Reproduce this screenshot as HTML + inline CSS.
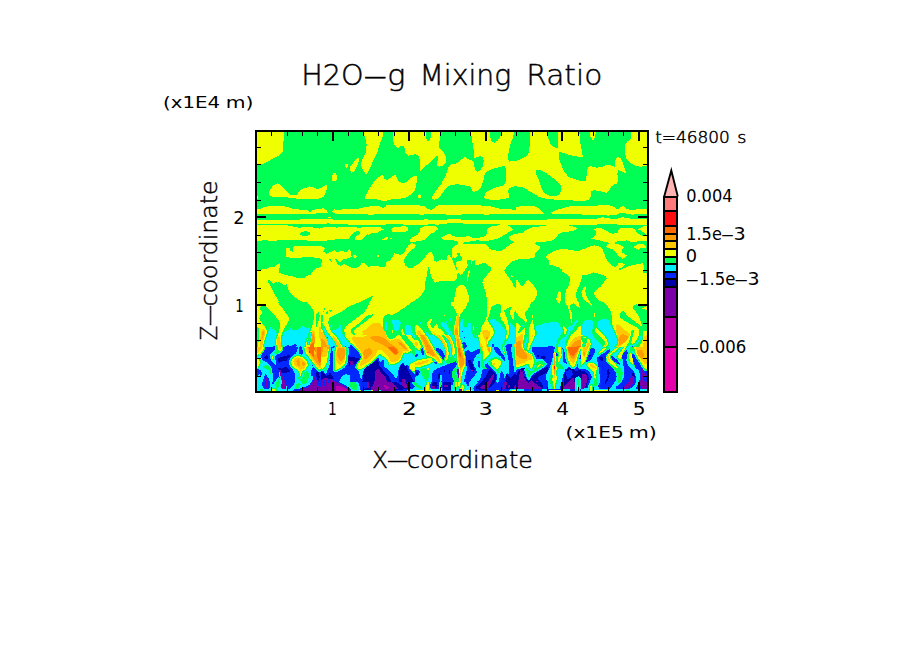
<!DOCTYPE html><html><head><meta charset="utf-8"><title>H2O-g Mixing Ratio</title><style>html,body{margin:0;padding:0;background:#fff;}svg{display:block}text{font-family:"DejaVu Sans","Liberation Sans",sans-serif;fill:#000}.lt{font-family:"DejaVu Sans Light","DejaVu Sans","Liberation Sans",sans-serif;font-weight:200}</style></head><body>
<svg width="904" height="654" viewBox="0 0 904 654">
<rect width="904" height="654" fill="#fff"/>
<g shape-rendering="crispEdges"><rect x="256" y="131" width="392" height="261" fill="#00ff55"/><defs><clipPath id="c0"><rect x="256" y="130" width="130" height="90"/></clipPath><clipPath id="c1"><rect x="386" y="130" width="130" height="90"/></clipPath><clipPath id="c2"><rect x="516" y="130" width="131" height="90"/></clipPath><clipPath id="c3"><rect x="256" y="218" width="130" height="94"/></clipPath><clipPath id="c4"><rect x="386" y="218" width="130" height="94"/></clipPath><clipPath id="c5"><rect x="516" y="218" width="131" height="94"/></clipPath><clipPath id="c6"><rect x="256" y="302" width="65" height="47"/></clipPath><clipPath id="c7"><rect x="321" y="302" width="65" height="47"/></clipPath><clipPath id="c8"><rect x="386" y="302" width="65" height="47"/></clipPath><clipPath id="c9"><rect x="451" y="302" width="65" height="47"/></clipPath><clipPath id="c10"><rect x="516" y="302" width="65" height="47"/></clipPath><clipPath id="c11"><rect x="581" y="302" width="68" height="47"/></clipPath><clipPath id="c12"><rect x="256" y="347" width="65" height="46"/></clipPath><clipPath id="c13"><rect x="321" y="347" width="65" height="46"/></clipPath><clipPath id="c14"><rect x="386" y="347" width="65" height="46"/></clipPath><clipPath id="c15"><rect x="451" y="347" width="65" height="46"/></clipPath><clipPath id="c16"><rect x="516" y="347" width="65" height="46"/></clipPath><clipPath id="c17"><rect x="581" y="347" width="68" height="46"/></clipPath><clipPath id="c18"><rect x="350" y="335" width="65" height="47"/></clipPath><clipPath id="c19"><rect x="415" y="335" width="65" height="47"/></clipPath></defs><g clip-path="url(#c0)"><rect x="256" y="130" width="130" height="90" fill="#00ff55"/><polygon fill="#f0ff00" points="256.0,131.4 284.0,131.4 284.0,134.3 283.3,144.4 282.6,151.6 279.0,155.9 273.3,158.0 269.7,160.9 263.2,163.8 257.4,165.2 256.0,165.2"/><polygon fill="#f0ff00" points="383.3,131.4 382.5,137.2 379.7,144.4 377.5,151.6 373.9,158.8 371.0,166.0 367.4,173.1 366.0,174.3 363.9,171.7 361.7,168.1 361.0,164.5 362.4,158.8 364.6,154.4 366.0,151.6 366.7,144.4 365.3,138.6 363.9,134.3 363.9,131.4"/><polygon fill="#f0ff00" points="358.1,157.0 358.8,158.8 358.4,163.1 355.9,168.8 353.8,171.7 351.6,172.9 350.2,170.3 350.2,166.7 352.3,163.8 355.2,160.2"/><polygon fill="#f0ff00" points="345.4,164.5 347.7,164.2 348.0,166.7 346.3,167.7 345.2,166.2"/><polygon fill="#f0ff00" points="333.7,173.1 335.4,173.1 336.8,176.0 336.8,179.6 334.8,181.0 332.5,180.6 331.9,177.5 332.2,174.9"/><polygon fill="#f0ff00" points="277.6,183.2 279.7,184.6 284.8,189.7 291.2,195.4 294.8,195.4 297.7,194.4 298.4,191.8 302.0,188.7 305.6,188.2 309.2,186.4 312.8,186.8 316.4,189.0 320.7,188.2 325.0,185.4 326.8,185.4 326.5,190.4 325.0,194.7 323.6,196.9 316.4,199.3 306.3,198.7 297.7,198.7 290.5,197.6 281.9,197.3 274.7,196.9 269.7,196.1 268.9,191.8 270.4,189.0 273.3,185.4"/><polygon fill="#f0ff00" points="256.0,196.1 257.7,196.1 257.7,199.0 256.0,199.0"/><polygon fill="#f0ff00" points="383.3,174.3 384.0,178.9 386.9,179.6 386.9,200.8 382.5,200.8 378.2,199.7 371.0,198.7 365.3,198.7 365.3,196.1 367.4,191.8 371.0,186.1 375.4,179.6 379.7,176.7"/><polygon fill="#f0ff00" points="256.0,208.8 260.3,208.8 264.6,206.9 270.4,205.9 281.9,205.9 287.6,206.9 293.4,208.8 303.5,210.0 307.8,210.5 310.6,212.3 312.8,210.2 316.4,209.1 323.6,208.4 327.2,210.5 327.9,213.1 310.6,213.7 299.1,214.1 284.8,214.1 270.4,214.1 256.0,214.1"/><polygon fill="#f0ff00" points="332.2,211.2 334.4,209.4 338.7,210.2 342.3,209.4 349.5,209.1 356.7,209.1 362.4,207.7 371.0,206.2 378.2,205.9 382.5,207.7 386.9,206.9 386.9,214.1 371.0,214.6 356.7,214.1 336.5,214.1 335.1,213.4 332.9,213.4"/><polygon fill="#f0ff00" points="256.0,219.9 320.7,219.9 325.0,218.4 329.3,217.0 333.7,218.4 338.0,219.9 386.9,219.9 386.9,224.9 256.0,224.9"/></g>
<g clip-path="url(#c1)"><rect x="386" y="130" width="130" height="90" fill="#00ff55"/><polygon fill="#f0ff00" points="393.2,131.4 393.2,141.5 394.6,145.1 398.2,148.7 400.4,145.8 403.0,145.5 404.7,148.7 405.4,153.0 407.6,155.6 411.9,155.2 415.5,154.2 418.4,155.9 419.8,160.2 420.2,167.4 419.4,169.1 420.5,170.6 424.8,166.7 428.4,163.8 432.0,160.9 434.9,157.3 437.0,155.2 438.1,156.6 437.5,160.9 437.0,166.0 439.9,166.7 443.5,165.2 445.7,162.4 445.7,156.6 444.2,153.0 441.4,150.1 439.2,148.0 439.5,141.5 439.9,131.4"/><polygon fill="#00ff55" points="425.5,130.0 425.5,137.9 427.7,140.8 429.9,140.1 430.9,136.5 430.9,130.0"/><polygon fill="#f0ff00" points="385.3,181.0 389.6,178.2 393.2,175.7 395.8,175.3 397.2,178.2 398.2,181.0 401.1,182.5 405.4,182.5 409.0,179.6 413.3,176.3 416.9,176.3 416.9,180.3 415.9,187.5 414.0,191.8 410.4,194.7 406.1,197.6 398.9,199.0 391.8,199.3 385.3,200.8"/><polygon fill="#f0ff00" points="470.8,131.4 472.3,141.5 473.7,150.1 474.0,158.0 476.6,157.3 480.2,156.2 482.6,157.3 483.8,160.9 482.6,166.7 480.2,170.3 477.3,171.7 475.2,169.5 474.0,165.2 473.4,160.9 470.8,160.2 468.0,158.8 464.8,157.0 461.5,159.5 457.9,162.4 455.0,163.8 450.7,164.5 448.6,167.1 446.4,173.1 445.0,177.5 442.8,180.3 441.4,183.9 438.5,187.5 435.6,191.1 432.7,195.4 431.7,198.3 434.2,199.7 437.8,198.7 440.6,196.1 442.1,193.3 445.0,189.7 447.8,186.8 451.4,184.9 456.5,184.4 460.8,184.6 463.7,185.4 468.7,185.8 471.1,187.5 472.0,191.1 474.4,191.8 478.0,190.4 480.2,188.2 482.1,184.6 483.8,178.9 484.5,174.6 486.7,171.7 491.0,169.5 495.3,168.1 501.0,166.7 504.6,166.2 506.1,168.8 506.1,177.5 505.4,183.2 502.5,185.8 498.2,186.8 492.4,188.7 487.4,191.1 484.9,194.0 484.1,197.6 486.7,199.3 495.3,200.2 503.9,199.0 508.2,197.9 509.7,196.1 508.2,191.8 509.0,188.2 512.5,186.8 516.9,186.1 516.9,160.9 509.0,161.6 507.9,158.0 508.5,153.0 510.0,145.8 512.5,138.6 514.7,131.4"/><polygon fill="#00ff55" points="489.8,130.0 490.3,137.2 491.7,141.5 494.6,142.7 497.4,140.8 500.3,137.2 501.8,130.0"/><polygon fill="#f0ff00" points="419.4,194.0 421.2,195.4 420.5,197.6 418.4,197.6 417.9,195.4"/><polygon fill="#f0ff00" points="385.3,205.5 400.4,204.8 414.8,204.8 424.8,206.2 427.7,209.1 432.0,209.8 435.6,206.9 439.2,205.1 457.9,204.5 475.2,204.8 480.9,205.5 489.5,206.2 498.2,208.4 505.4,209.4 511.1,208.8 514.0,210.5 516.9,208.8 516.9,214.1 501.0,214.1 486.7,214.6 472.3,214.1 455.0,214.8 449.3,214.8 440.6,214.1 426.3,214.1 422.0,214.8 414.8,214.1 400.4,214.1 385.3,214.1"/><polygon fill="#f0ff00" points="385.3,219.9 516.9,219.9 516.9,224.9 385.3,224.9"/></g>
<g clip-path="url(#c2)"><rect x="516" y="130" width="131" height="90" fill="#00ff55"/><polygon fill="#f0ff00" points="530.4,131.4 547.9,131.4 548.4,138.6 550.5,143.7 554.1,147.3 557.7,148.0 558.0,138.6 557.7,131.4 579.3,131.4 580.0,141.5 581.4,148.7 582.9,157.3 577.8,156.6 570.6,155.2 563.5,153.0 559.1,151.9 559.1,158.8 561.7,166.0 564.9,172.4 568.5,176.7 573.5,178.9 579.3,180.6 585.7,180.6 586.5,176.0 587.2,170.3 587.9,166.7 590.8,166.2 596.5,167.7 602.3,166.7 606.6,164.5 609.5,165.2 614.5,166.7 615.2,160.2 617.4,157.3 620.3,157.6 623.1,163.1 626.0,173.1 622.4,171.7 618.4,170.3 617.4,173.1 617.8,178.9 617.4,183.2 613.8,184.6 610.9,186.8 608.8,191.1 606.6,193.0 600.8,191.5 594.4,190.1 591.5,191.1 590.8,196.1 590.1,199.0 586.5,200.5 573.5,200.5 559.1,199.7 547.6,199.3 539.0,196.9 531.8,192.6 526.1,189.0 521.8,186.8 515.3,186.4 515.3,160.9 521.8,158.8 526.8,155.9 529.2,151.6 529.7,144.4"/><polygon fill="#00ff55" points="536.1,170.3 539.7,170.0 544.8,172.4 550.5,176.0 557.0,181.0 560.9,185.4 561.3,190.4 559.1,194.7 554.8,196.4 549.8,196.1 545.5,194.0 542.6,190.4 540.4,184.6 538.3,178.9 536.1,173.9"/><polygon fill="#f0ff00" points="590.1,131.4 590.5,136.5 592.9,140.8 595.1,137.2 595.8,131.4"/><polygon fill="#f0ff00" points="631.0,131.4 647.6,131.4 647.6,166.0 639.7,166.7 633.9,165.2 629.6,162.4 626.0,158.0 625.0,151.6 625.3,144.4 627.4,141.5 630.3,140.1 631.0,135.8"/><polygon fill="#f0ff00" points="515.3,207.7 520.3,206.2 526.1,205.5 534.7,206.2 539.7,209.1 543.3,212.3 544.0,214.1 515.3,214.1"/><polygon fill="#f0ff00" points="551.2,212.7 554.8,210.5 562.0,208.4 570.6,206.2 580.7,205.5 590.8,206.2 596.5,205.9 602.3,204.5 608.0,204.5 613.8,206.9 618.1,209.8 620.3,206.9 623.1,206.2 626.0,208.4 629.6,209.8 635.4,209.8 638.2,208.8 641.1,209.4 647.6,209.1 647.6,214.1 631.0,214.6 622.4,212.7 619.5,213.4 616.7,214.8 608.0,215.6 602.3,215.1 587.9,214.8 573.5,214.1 559.1,214.1 552.0,214.1"/><polygon fill="#f0ff00" points="515.3,219.9 521.8,219.9 530.4,219.4 544.8,219.2 559.1,219.9 576.4,220.3 590.8,220.3 598.0,218.4 602.3,217.0 605.9,218.0 609.5,219.9 616.7,219.2 622.4,217.0 626.7,218.4 631.0,220.3 647.6,220.3 647.6,224.9 515.3,224.9"/></g>
<g clip-path="url(#c3)"><rect x="256" y="218" width="130" height="94" fill="#f0ff00"/><polygon fill="#00ff55" points="256.0,218.0 386.0,218.0 386.0,220.0 353.8,220.0 333.7,219.7 330.8,218.6 327.2,218.6 325.0,219.4 256.0,219.7"/><polygon fill="#00ff55" points="257.4,224.3 284.8,224.3 290.5,224.0 325.0,224.0 327.9,223.2 330.8,224.0 350.9,224.6 386.9,224.6 386.9,226.6 379.7,226.5 363.9,226.5 361.0,227.5 356.7,227.5 355.2,226.5 349.5,226.5 345.2,227.2 336.5,227.5 330.8,226.9 327.9,227.2 325.0,226.9 319.3,228.6 313.5,227.5 306.3,226.9 299.1,227.8 290.5,226.1 286.9,225.2 257.4,225.2"/><polygon fill="#00ff55" points="256.0,241.0 264.6,240.3 270.4,240.7 284.8,240.3 299.1,239.9 313.5,241.0 321.0,241.2 331.1,240.1 338.3,239.0 348.3,239.4 350.5,236.1 351.9,234.4 354.8,232.2 356.9,231.1 359.1,231.5 360.1,233.0 358.4,234.7 356.2,236.1 355.1,237.6 355.1,239.7 362.0,239.6 364.1,237.3 367.0,234.4 368.5,234.7 371.3,233.2 377.8,233.0 380.7,230.4 383.8,229.6 382.1,228.6 379.7,226.5 386.9,226.5 386.9,266.2 382.5,266.9 376.8,266.2 371.0,265.5 368.2,267.6 366.7,264.7 363.9,262.6 361.7,262.9 360.3,265.5 356.7,267.6 352.3,268.3 348.0,266.2 344.4,264.0 340.8,265.7 338.0,264.7 334.8,259.0 336.5,259.0 338.7,261.1 340.8,262.6 342.3,259.7 348.0,258.3 351.6,256.5 350.9,254.0 350.2,248.9 345.9,252.5 342.3,250.8 336.5,252.2 334.4,250.4 330.8,252.2 327.9,252.8 326.5,254.0 323.3,251.4 324.7,248.2 322.1,246.5 313.5,245.6 297.7,245.6 293.1,246.8 292.7,251.8 290.2,250.4 289.8,247.5 286.2,247.5 286.2,256.5 289.1,257.5 293.4,258.3 299.1,258.0 304.9,256.8 310.6,257.1 319.3,258.3 322.4,259.0 322.1,261.1 320.7,266.9 316.4,268.3 313.5,270.5 310.6,274.8 307.8,275.5 303.5,278.4 299.1,278.4 292.0,276.2 284.8,274.8 279.0,272.6 279.0,269.8 280.4,266.2 279.7,263.3 277.6,264.0 273.3,267.6 270.4,266.9 267.5,268.3 261.8,269.5 256.0,270.5"/><polygon fill="#00ff55" points="328.6,258.3 330.8,259.0 332.2,262.9 330.1,261.1"/><polygon fill="#f0ff00" points="353.1,255.4 355.2,254.7 356.7,256.5 355.2,258.0 353.4,257.1"/><polygon fill="#f0ff00" points="377.1,255.1 379.1,255.1 379.1,257.1 377.1,257.1"/><polygon fill="#f0ff00" points="382.1,239.7 386.9,236.1 386.9,239.7"/><polygon fill="#00ff55" points="299.9,233.1 302.0,231.7 306.3,231.2 309.5,232.4 309.9,234.5 307.0,236.0 302.7,236.0 300.3,234.5"/><polygon fill="#00ff55" points="268.2,279.8 270.4,280.6 274.0,284.1 275.4,282.0 277.6,282.7 279.7,282.0 281.9,283.4 284.8,285.6 286.9,283.4 287.9,289.2 289.8,292.8 293.4,296.4 299.1,300.0 304.9,302.8 309.2,305.7 312.1,309.3 313.5,312.9 284.8,312.9 282.6,307.2 279.7,302.8 277.6,299.2 274.7,294.2 272.5,289.9 270.4,285.6 268.2,282.7"/><polygon fill="#00ff55" points="256.0,302.8 260.3,302.8 263.2,304.3 266.8,307.9 269.7,312.9 256.0,312.9"/><polygon fill="#00ff55" points="342.3,312.9 348.0,307.9 356.7,303.6 365.3,299.2 371.0,296.4 372.8,296.4 371.0,300.7 368.2,304.3 366.7,307.9 365.3,312.9"/></g>
<g clip-path="url(#c4)"><rect x="386" y="218" width="130" height="94" fill="#00ff55"/><polygon fill="#f0ff00" points="385.3,219.7 423.4,219.7 424.8,218.7 427.7,218.7 428.4,219.7 446.4,219.7 447.8,219.2 460.8,219.2 462.2,220.0 517.6,220.0 517.6,224.9 508.2,225.2 507.8,223.5 499.9,223.5 499.6,224.0 463.7,224.0 462.2,223.2 447.8,223.2 446.4,224.3 435.6,224.6 433.5,224.0 428.4,224.0 427.0,224.9 410.4,224.6 386.0,224.3 385.3,224.3"/><polygon fill="#f0ff00" points="391.0,229.5 393.2,227.3 400.4,226.6 405.4,225.9 407.9,227.3 407.9,230.2 405.4,232.4 400.4,232.1 394.6,232.4 392.5,231.7"/><polygon fill="#f0ff00" points="386.0,237.4 388.2,236.7 388.6,239.3 386.0,239.6"/><polygon fill="#f0ff00" points="389.6,238.1 391.8,237.8 391.8,239.0 389.6,239.0"/><polygon fill="#f0ff00" points="420.5,228.1 424.1,226.3 430.6,225.5 434.9,225.9 437.0,227.8 438.5,229.2 436.3,230.2 434.2,232.4 430.6,233.8 427.7,236.7 424.8,239.6 420.5,241.0 414.8,241.7 410.4,241.7 410.2,239.6 412.6,237.4 416.9,235.3 419.4,232.4"/><polygon fill="#f0ff00" points="441.4,237.4 445.0,235.5 447.8,234.1 450.7,234.5 453.6,236.4 463.7,237.0 468.0,236.0 470.8,236.7 472.3,238.1 478.0,238.1 480.9,237.4 485.2,236.0 486.7,233.8 486.9,229.5 488.4,227.8 491.3,226.1 499.9,225.2 499.9,223.5 507.8,223.5 507.8,225.2 510.0,226.6 512.8,229.8 508.5,232.4 504.2,235.0 501.3,237.0 498.5,238.4 494.1,239.6 490.1,240.3 486.2,241.3 481.9,241.3 479.5,240.7 478.3,239.3 476.9,240.3 473.3,241.0 469.4,241.7 463.7,242.2 462.9,243.9 457.9,243.9 457.6,241.7 453.6,240.3 446.4,240.3 442.8,239.6"/><polygon fill="#f0ff00" points="385.3,261.9 390.3,260.4 392.5,256.8 394.6,253.2 396.8,254.0 400.4,254.7 404.0,253.2 406.1,248.9 408.3,245.3 411.9,243.2 414.8,243.9 415.9,246.0 414.0,248.2 410.4,251.1 407.6,254.0 404.7,258.3 404.0,261.9 405.4,265.5 408.3,267.6 412.6,267.6 416.2,265.5 420.5,261.9 424.1,258.3 427.7,254.0 429.9,251.4 432.0,252.5 433.5,256.1 434.2,260.4 436.3,261.9 439.2,260.4 441.4,259.0 443.5,260.4 446.4,260.4 447.1,256.1 449.3,254.7 450.7,257.5 452.4,258.3 452.1,248.9 454.3,246.0 457.9,243.9 462.9,243.9 466.5,243.6 475.2,243.9 485.5,243.9 490.1,249.3 497.0,250.8 502.0,250.8 505.6,247.5 510.0,244.6 514.6,242.4 509.7,239.6 509.2,236.7 512.5,234.5 517.6,233.8 517.6,312.9 385.3,312.9"/><polygon fill="#00ff55" points="398.9,312.9 404.7,307.9 410.4,303.6 417.6,298.5 422.0,294.2 424.5,289.9 425.1,282.7 427.0,275.5 428.0,267.6 429.1,266.9 429.9,271.2 431.3,277.0 433.5,281.3 435.6,282.7 439.2,281.3 443.5,281.0 449.3,280.6 453.6,281.3 456.5,279.1 457.6,274.8 457.0,274.2 458.3,273.2 460.5,274.7 462.6,273.5 464.4,271.1 466.2,268.2 467.7,265.3 467.0,260.3 470.8,260.3 470.6,264.0 472.3,264.7 472.3,261.0 474.9,260.3 475.6,265.6 480.9,264.0 484.2,262.3 486.7,264.0 487.8,265.3 490.7,267.0 490.8,271.1 488.8,272.6 486.7,275.5 483.8,278.4 482.3,282.7 483.8,287.0 485.9,292.8 486.7,298.5 486.7,312.9 468.7,312.9 469.1,304.3 468.7,295.7 466.5,288.5 463.7,284.9 459.3,285.3 456.5,288.5 454.7,295.7 453.6,302.8 451.4,307.2 453.6,310.0 454.3,312.9"/><polygon fill="#00ff55" points="456.9,253.1 460.1,253.1 460.1,256.1 462.2,258.1 461.9,260.3 459.3,260.7 457.2,261.0 456.2,262.9 455.7,265.3 456.9,268.2 456.5,269.9 455.5,268.2 454.0,263.9 452.9,261.0 452.1,258.1 453.6,257.0 455.0,258.4 456.5,257.0 457.9,256.0 456.9,254.5"/><polygon fill="#f0ff00" points="468.4,270.6 469.8,270.3 469.4,274.7 468.4,277.5 467.7,281.1 467.0,281.1 467.2,276.8 468.0,273.2"/><polygon fill="#00ff55" points="517.6,259.7 512.5,261.1 508.2,265.5 503.9,270.5 506.8,274.8 509.7,278.4 512.5,282.7 514.0,287.0 517.6,288.5"/><polygon fill="#f0ff00" points="511.1,275.2 512.8,275.8 513.1,277.5 511.4,277.0"/><polygon fill="#00ff55" points="491.7,312.9 492.1,307.2 495.3,304.3 498.9,303.1 501.0,305.7 501.8,312.9"/><polygon fill="#00ff55" points="504.6,312.9 508.2,309.3 512.5,306.4 513.3,310.0 512.5,312.9"/></g>
<g clip-path="url(#c5)"><rect x="516" y="218" width="131" height="94" fill="#00ff55"/><polygon fill="#f0ff00" points="515.3,220.0 546.2,220.0 546.9,219.2 596.5,219.2 599.4,217.0 608.0,217.0 610.9,219.4 616.7,219.4 619.5,217.0 629.6,217.0 631.0,219.4 647.6,219.4 647.6,224.9 638.2,224.9 631.0,225.2 616.7,224.5 602.3,223.8 596.5,224.5 587.9,225.2 567.8,225.2 566.3,224.5 547.6,224.5 546.2,225.2 534.7,225.5 524.6,225.2 516.0,224.9 515.3,224.9"/><polygon fill="#f0ff00" points="515.3,233.8 521.8,233.1 524.6,230.9 528.9,228.4 534.7,226.9 544.8,225.9 547.6,224.6 566.3,224.6 570.6,225.9 575.7,227.3 577.1,229.2 573.5,230.9 567.8,231.7 562.0,232.4 558.4,234.5 555.5,238.1 552.0,240.7 544.8,241.7 537.6,242.4 534.0,242.7 536.1,244.6 539.7,246.0 540.4,248.2 537.6,250.4 535.4,253.2 535.4,256.8 531.8,258.3 524.6,259.0 516.0,259.7 515.3,259.7"/><polygon fill="#f0ff00" points="545.5,256.5 549.1,254.0 554.1,251.1 559.1,249.3 566.3,249.3 573.5,250.4 579.3,251.1 583.6,248.9 589.3,246.8 594.4,245.3 599.4,246.5 602.3,248.9 604.4,254.0 606.6,259.7 609.5,263.3 613.1,266.2 615.2,266.9 617.4,264.7 618.8,262.6 621.7,262.9 625.3,264.7 621.7,267.6 618.4,268.6 618.8,270.5 625.3,267.6 631.0,265.5 638.2,264.0 642.5,263.3 644.0,265.5 644.0,269.8 642.5,272.6 647.6,272.6 647.6,312.9 635.4,312.9 632.5,308.6 629.6,306.4 625.3,307.2 622.4,309.3 619.5,311.5 616.7,312.9 610.9,312.9 608.0,307.9 602.3,302.8 596.5,298.5 593.7,293.5 596.5,289.9 600.1,287.0 603.7,282.7 606.6,278.4 606.3,276.2 602.3,274.8 598.0,273.4 593.7,272.4 589.3,274.1 585.0,275.5 582.4,274.8 581.4,279.8 579.3,285.6 577.1,289.9 575.7,294.2 577.1,300.0 579.3,305.7 579.0,307.9 575.7,305.0 572.8,303.1 570.4,304.3 569.9,308.6 570.6,312.9 568.5,312.9 566.3,307.2 564.9,301.4 564.9,295.7 566.3,289.9 568.5,285.6 569.9,281.3 569.5,277.0 566.3,274.1 562.7,271.9 561.3,269.0 557.7,266.9 553.4,265.7 549.4,264.7 548.8,260.4"/><polygon fill="#f0ff00" points="581.4,292.8 582.9,288.5 585.0,285.9 586.2,287.0 585.3,291.3 586.5,295.7 588.6,300.0 591.5,304.3 591.9,306.9 589.3,305.0 585.7,301.4 582.9,297.8"/><polygon fill="#f0ff00" points="559.1,291.1 560.6,292.1 560.9,298.5 559.9,305.0 557.7,302.8 556.3,299.2 557.0,294.9"/><polygon fill="#f0ff00" points="515.3,279.8 517.4,279.8 519.6,283.4 521.8,286.7 524.6,283.4 527.5,279.8 529.7,281.3 533.3,284.9 536.1,289.2 537.3,292.8 536.1,297.1 533.3,301.4 530.4,306.4 528.9,312.9 515.3,312.9"/><polygon fill="#00ff55" points="631.0,306.4 635.4,304.3 639.7,305.7 644.0,309.3 647.6,310.8 647.6,312.9 635.4,312.9"/><polygon fill="#f0ff00" points="591.2,238.7 593.4,236.8 596.2,234.7 596.0,231.8 594.1,229.4 596.2,228.2 601.3,228.2 605.6,230.1 609.2,232.5 612.1,233.7 617.8,233.2 618.2,230.4 619.2,228.6 624.3,228.1 632.9,228.2 635.5,230.1 637.2,233.2 640.8,235.1 644.4,236.1 647.3,236.6 647.3,240.9 641.5,241.2 635.8,241.6 630.0,241.6 627.2,240.4 621.4,241.2 615.7,241.6 613.5,243.3 615.7,243.7 620.0,244.7 622.8,246.6 625.0,247.3 622.8,248.1 621.8,249.8 621.8,252.7 624.3,253.8 627.2,255.5 625.7,257.0 622.8,258.8 620.0,257.0 617.8,255.2 616.4,252.4 614.2,250.5 612.1,249.1 609.2,248.1 607.0,247.6 606.0,246.6 607.5,244.5 608.9,243.2 607.7,241.9 604.2,241.6 600.6,241.2 598.4,239.7 595.5,239.6"/><polygon fill="#f0ff00" points="637.9,229.4 640.8,227.5 643.7,226.1 647.3,225.9 647.3,235.1 644.4,233.2 642.3,231.5 640.1,230.1"/><polygon fill="#f0ff00" points="633.3,247.3 635.8,245.5 637.9,244.2 641.5,244.0 644.4,244.7 645.9,246.2 645.9,247.6 643.0,248.1 640.1,248.3 638.7,249.8 637.2,248.8 635.1,248.1"/></g>
<g clip-path="url(#c6)"><rect x="256" y="302" width="65" height="47" fill="#00ff55"/><polygon fill="#00f0ff" points="270.4,327.2 271.5,328.6 273.3,329.3 275.4,330.8 276.9,333.6 276.1,337.2 275.4,340.8 275.8,345.1 276.1,349.7 263.9,349.7 264.3,345.1 265.3,340.8 266.8,336.5 267.9,332.9 268.9,330.0 269.7,328.2"/><polygon fill="#00f0ff" points="282.6,333.6 284.8,332.2 286.9,330.8 289.1,329.3 290.5,328.2 291.6,329.3 293.4,330.8 296.3,329.7 299.1,328.2 302.0,326.8 303.1,326.1 304.2,327.2 306.3,328.2 308.5,327.5 309.9,327.2 310.1,330.8 309.2,333.6 307.8,335.8 306.3,338.7 305.6,342.3 304.9,345.9 304.9,349.7 282.6,349.7 282.0,345.1 281.9,339.4 282.2,335.8"/><polygon fill="#00f0ff" points="257.1,332.2 258.2,332.6 258.3,340.1 257.1,340.5"/><polygon fill="#0028ff" points="266.1,349.7 266.8,347.7 268.9,348.0 271.1,347.3 273.3,346.2 275.4,346.0 275.8,349.7"/><polygon fill="#0028ff" points="284.0,349.7 284.2,346.6 286.2,346.0 287.6,345.1 289.8,345.9 292.0,345.5 294.1,344.4 295.9,344.1 297.0,345.1 296.3,346.9 297.3,349.7"/><polygon fill="#0028ff" points="298.4,349.7 299.1,346.9 300.2,345.9 300.9,345.1 301.3,346.9 302.7,347.7 303.1,349.7"/><polygon fill="#00ff55" stroke="#00ff55" stroke-width="2.2" stroke-linejoin="round" points="257.1,301.3 277.6,301.3 279.0,304.2 281.2,306.3 283.3,309.2 285.5,312.8 287.6,315.3 288.9,317.5 288.7,320.7 287.6,322.9 286.2,325.0 284.8,327.2 283.3,330.0 282.2,332.2 281.5,335.1 281.2,339.4 281.3,343.7 281.7,349.7 276.9,349.7 276.5,345.1 276.3,340.8 276.9,337.2 278.3,333.6 279.4,330.0 280.1,325.7 280.1,322.9 278.3,320.0 276.1,317.1 273.3,313.9 270.4,310.6 267.5,307.8 264.6,305.6 262.5,305.2 260.3,307.0 260.0,309.2 261.4,310.6 261.8,313.5 260.3,315.7 259.2,318.5 260.3,320.7 262.5,323.6 264.6,326.4 266.8,330.8 266.8,333.6 265.3,337.2 264.3,340.8 263.2,345.1 262.8,349.7 258.2,349.7 258.5,342.3 258.9,336.5 259.2,332.2 258.9,327.9 257.1,326.4"/><polygon fill="#f0ff00" points="257.1,301.3 277.6,301.3 279.0,304.2 281.2,306.3 283.3,309.2 285.5,312.8 287.6,315.3 288.9,317.5 288.7,320.7 287.6,322.9 286.2,325.0 284.8,327.2 283.3,330.0 282.2,332.2 281.5,335.1 281.2,339.4 281.3,343.7 281.7,349.7 276.9,349.7 276.5,345.1 276.3,340.8 276.9,337.2 278.3,333.6 279.4,330.0 280.1,325.7 280.1,322.9 278.3,320.0 276.1,317.1 273.3,313.9 270.4,310.6 267.5,307.8 264.6,305.6 262.5,305.2 260.3,307.0 260.0,309.2 261.4,310.6 261.8,313.5 260.3,315.7 259.2,318.5 260.3,320.7 262.5,323.6 264.6,326.4 266.8,330.8 266.8,333.6 265.3,337.2 264.3,340.8 263.2,345.1 262.8,349.7 258.2,349.7 258.5,342.3 258.9,336.5 259.2,332.2 258.9,327.9 257.1,326.4"/><polygon fill="#ffc800" points="262.5,329.3 263.9,329.0 265.0,330.4 265.3,333.6 264.3,337.2 263.2,340.8 262.5,345.1 262.1,349.7 259.6,349.7 260.0,343.7 260.3,339.4 260.7,335.1 261.4,331.5"/><polygon fill="#ff9c00" points="262.8,330.8 263.9,330.4 264.1,333.6 263.2,336.5 262.5,339.4 261.8,338.0 262.1,334.4"/><polygon fill="#ffc800" points="277.6,336.5 279.0,335.8 280.1,339.4 280.8,343.7 281.2,349.7 277.6,349.7 277.2,345.1 277.0,340.8"/><polygon fill="#00ff55" stroke="#00ff55" stroke-width="2.2" stroke-linejoin="round" points="306.3,301.3 307.8,303.4 309.9,305.6 312.1,308.5 313.5,311.3 313.9,314.9 313.5,320.0 312.8,323.6 311.7,327.2 310.6,330.8 309.2,334.4 307.8,338.0 306.3,342.3 305.6,345.9 305.5,349.7 321.8,349.7 321.8,301.3"/><polygon fill="#f0ff00" points="306.3,301.3 307.8,303.4 309.9,305.6 312.1,308.5 313.5,311.3 313.9,314.9 313.5,320.0 312.8,323.6 311.7,327.2 310.6,330.8 309.2,334.4 307.8,338.0 306.3,342.3 305.6,345.9 305.5,349.7 321.8,349.7 321.8,301.3"/><polygon fill="#00ff55" points="317.8,312.1 319.3,312.8 319.6,316.4 318.6,320.7 317.1,325.0 316.4,327.2 315.7,323.6 316.0,317.8 316.4,314.2"/><polygon fill="#00ff55" stroke="#00ff55" stroke-width="2.2" stroke-linejoin="round" points="310.6,332.9 311.0,335.8 309.9,340.1 308.8,343.7 307.8,344.4 308.5,340.8 309.6,336.5"/><polygon fill="#00f0ff" points="310.6,332.9 311.0,335.8 309.9,340.1 308.8,343.7 307.8,344.4 308.5,340.8 309.6,336.5"/><polygon fill="#ffc800" points="312.8,330.0 314.2,330.8 315.0,334.4 315.3,339.4 314.6,343.7 313.5,346.6 312.8,349.7 309.2,349.7 309.6,345.9 310.6,342.3 311.4,338.0 311.7,333.6"/><polygon fill="#ff9c00" points="312.4,333.6 313.9,333.6 314.6,338.0 314.6,342.3 313.5,346.6 312.8,349.7 309.6,349.7 309.9,345.9 311.0,342.3 311.7,338.0"/><polygon fill="#ff6a00" points="310.6,344.4 312.8,343.0 314.6,343.7 314.2,346.6 313.5,349.7 309.6,349.7 309.8,346.6"/><polygon fill="#ffc800" points="319.3,327.2 321.8,326.4 321.8,342.3 320.0,340.8 319.3,336.5 318.9,332.2"/></g>
<g clip-path="url(#c7)"><rect x="321" y="302" width="65" height="47" fill="#f0ff00"/><polygon fill="#00ff55" points="361.3,301.3 368.8,301.3 368.5,304.9 367.0,308.5 364.1,312.1 361.3,314.6 358.4,316.7 355.5,318.9 352.6,321.1 349.8,323.2 346.9,325.4 344.7,327.2 344.4,330.8 344.7,334.4 345.4,338.0 342.6,334.4 340.4,331.5 338.3,329.7 335.4,329.3 333.6,330.8 331.8,329.3 330.3,327.2 328.9,325.0 328.2,322.9 328.9,319.3 330.3,317.1 333.2,315.7 336.8,313.9 339.7,312.8 341.9,311.3 344.0,309.9 346.2,308.5 348.3,306.7 351.9,305.2 355.5,303.8 358.4,302.7"/><polygon fill="#00ff55" points="372.8,314.2 373.1,315.3 371.3,317.1 368.5,319.3 365.6,321.8 362.7,323.6 359.8,325.7 357.0,327.5 354.8,329.3 354.1,332.2 354.8,334.4 354.1,335.4 352.6,334.0 351.2,332.2 350.8,330.0 351.9,328.6 354.8,326.4 357.7,324.3 360.5,322.1 362.7,320.3 364.9,317.8 367.0,316.0 369.9,314.9"/><polygon fill="#00ff55" points="384.3,315.7 386.0,314.2 386.8,314.2 386.8,332.2 385.0,331.5 383.6,329.3 383.0,325.7 383.2,320.7 383.6,317.8"/><polygon fill="#00f0ff" points="385.4,325.0 386.8,324.6 386.8,328.6 385.4,328.2"/><polygon fill="#00ff55" points="320.3,314.9 323.2,314.9 322.8,318.5 322.4,322.9 323.2,326.4 324.2,329.3 325.3,331.5 323.9,330.8 322.1,329.3 320.3,328.6"/><polygon fill="#00ff55" stroke="#00ff55" stroke-width="2.2" stroke-linejoin="round" points="323.2,325.7 324.6,328.6 326.0,331.5 328.2,334.4 330.3,337.2 332.5,340.1 334.7,343.0 336.1,345.9 336.8,349.7 328.9,349.7 328.5,345.1 327.8,341.5 326.8,338.0 325.3,334.4 323.9,330.8 322.8,327.9"/><polygon fill="#00f0ff" points="323.2,325.7 324.6,328.6 326.0,331.5 328.2,334.4 330.3,337.2 332.5,340.1 334.7,343.0 336.1,345.9 336.8,349.7 328.9,349.7 328.5,345.1 327.8,341.5 326.8,338.0 325.3,334.4 323.9,330.8 322.8,327.9"/><polygon fill="#00ff55" stroke="#00ff55" stroke-width="2.2" stroke-linejoin="round" points="330.0,325.4 331.4,325.0 331.8,327.9 332.9,330.8 334.3,330.4 336.5,329.0 338.3,328.2 339.7,325.7 340.8,325.4 341.1,327.9 341.9,332.9 343.3,335.8 345.4,338.7 348.3,341.5 351.2,344.4 353.7,346.9 355.5,349.7 344.0,349.7 343.3,346.6 341.9,343.7 340.1,340.8 338.3,338.0 336.5,335.4 335.0,333.3 332.5,331.5 331.1,328.6"/><polygon fill="#00f0ff" points="330.0,325.4 331.4,325.0 331.8,327.9 332.9,330.8 334.3,330.4 336.5,329.0 338.3,328.2 339.7,325.7 340.8,325.4 341.1,327.9 341.9,332.9 343.3,335.8 345.4,338.7 348.3,341.5 351.2,344.4 353.7,346.9 355.5,349.7 344.0,349.7 343.3,346.6 341.9,343.7 340.1,340.8 338.3,338.0 336.5,335.4 335.0,333.3 332.5,331.5 331.1,328.6"/><polygon fill="#0028ff" points="327.1,336.9 328.2,336.9 328.2,338.0 327.1,338.0"/><polygon fill="#0028ff" points="332.5,346.2 335.0,346.2 335.0,349.7 332.5,349.7"/><polygon fill="#0028ff" points="345.1,345.9 346.2,345.9 346.2,346.9 345.1,346.9"/><polygon fill="#0028ff" points="347.2,348.0 349.8,348.0 349.8,349.7 347.2,349.7"/><polygon fill="#ffc800" points="320.3,330.8 323.2,332.9 325.3,336.5 327.5,340.8 328.5,345.1 328.9,349.7 320.3,349.7"/><polygon fill="#ff9c00" points="320.3,338.0 323.2,339.4 325.3,342.3 327.1,345.9 327.8,349.7 320.3,349.7"/><polygon fill="#ffc800" points="332.5,335.1 335.4,338.0 338.3,341.5 340.8,345.1 342.6,349.7 338.3,349.7 337.2,346.6 335.7,343.7 333.9,340.1 332.5,337.2"/><polygon fill="#ffc800" points="362.3,330.8 365.6,330.0 368.5,327.2 371.3,324.3 374.2,322.5 377.1,322.9 380.0,323.6 382.1,326.4 384.3,330.8 386.8,333.6 386.8,349.7 361.3,349.7 359.8,346.6 358.4,343.7 356.2,342.3 352.6,339.4 349.8,338.7 347.6,338.3 349.0,338.0 351.9,338.3 355.5,339.4 359.1,338.7 361.3,336.5 362.7,333.6"/><polygon fill="#ff9c00" points="370.6,337.2 374.2,335.8 378.5,335.8 383.6,336.5 386.8,337.2 386.8,345.9 384.3,345.1 381.4,343.7 377.8,342.3 374.2,340.8 371.3,339.4"/><polygon fill="#ff9c00" points="352.6,340.8 355.5,343.0 358.4,345.1 359.8,348.0 360.2,349.7 354.8,349.7 354.1,346.6 352.6,343.7"/><polygon fill="#ff6a00" points="381.8,343.0 382.8,343.0 382.8,344.1 381.8,344.1"/><polygon fill="#00ff55" points="364.9,338.0 366.3,338.3 367.0,340.1 365.6,340.8 364.7,339.4"/><polygon fill="#00ff55" points="323.9,308.1 325.0,308.1 325.0,309.5 323.9,309.5"/><polygon fill="#00ff55" points="329.3,310.3 331.8,309.9 332.1,311.3 329.6,311.7"/><polygon fill="#00ff55" points="326.4,312.1 327.8,311.3 327.8,313.5 326.4,313.9"/><polygon fill="#00ff55" points="322.8,310.6 323.9,310.6 323.9,311.7 322.8,311.7"/></g>
<g clip-path="url(#c8)"><rect x="386" y="302" width="65" height="47" fill="#00ff55"/><polygon fill="#f0ff00" points="385.3,301.3 412.2,301.3 410.4,303.1 407.6,305.2 404.7,307.4 401.8,309.2 399.7,311.0 397.5,312.4 395.3,313.5 393.2,314.6 390.3,314.6 388.2,314.2 385.3,314.9"/><polygon fill="#00f0ff" points="385.3,322.1 386.7,322.5 387.1,325.7 387.4,329.3 386.0,329.7 385.3,329.3"/><polygon fill="#00f0ff" points="392.1,320.7 393.5,319.3 395.3,320.0 397.5,319.3 398.9,320.7 400.7,322.5 400.4,325.0 399.3,327.2 398.6,330.0 396.8,331.5 395.0,330.8 393.9,328.6 393.2,325.7 392.1,323.6"/><polygon fill="#00f0ff" points="405.4,325.7 407.2,324.3 409.0,324.6 410.8,325.7 411.5,328.6 411.9,331.5 413.0,333.6 412.2,336.5 412.7,340.1 414.8,343.0 416.6,345.9 417.6,349.7 407.6,349.7 405.4,346.6 403.6,343.7 402.9,340.8 403.3,339.4 405.8,334.4 405.3,330.8 405.1,327.9"/><polygon fill="#00f0ff" points="425.2,330.0 426.6,332.2 429.1,335.1 432.0,338.0 434.9,340.8 437.8,344.1 439.9,346.6 441.4,349.7 429.9,349.7 428.8,345.1 427.7,341.5 426.3,337.2 425.4,333.6"/><polygon fill="#00f0ff" points="441.0,322.9 442.8,322.1 445.0,322.9 447.1,325.0 448.2,327.9 450.0,330.8 451.8,332.9 451.8,339.4 450.0,336.5 447.8,333.6 445.7,330.8 443.5,327.9 441.7,325.7"/><polygon fill="#00f0ff" points="450.0,318.2 451.8,317.8 451.8,320.7 450.0,320.7"/><polygon fill="#00f0ff" points="446.0,321.1 447.1,321.1 447.1,322.9 446.0,322.9"/><polygon fill="#00f0ff" points="420.2,322.1 421.1,322.1 421.1,323.9 420.2,323.9"/><polygon fill="#00ff55" stroke="#00ff55" stroke-width="2.2" stroke-linejoin="round" points="385.3,333.6 386.7,335.8 388.2,338.7 390.3,339.7 392.5,338.0 395.3,336.2 397.9,335.1 400.0,336.5 401.8,338.7 404.0,340.8 406.1,343.3 408.3,345.9 410.4,349.7 385.3,349.7"/><polygon fill="#f0ff00" points="385.3,333.6 386.7,335.8 388.2,338.7 390.3,339.7 392.5,338.0 395.3,336.2 397.9,335.1 400.0,336.5 401.8,338.7 404.0,340.8 406.1,343.3 408.3,345.9 410.4,349.7 385.3,349.7"/><polygon fill="#ffc800" points="385.3,338.0 387.4,340.8 389.6,341.9 392.5,340.1 395.3,338.3 397.9,337.6 400.0,339.4 402.2,341.9 404.7,344.8 406.9,347.3 408.3,349.7 385.3,349.7"/><polygon fill="#ff9c00" points="385.3,340.8 387.4,343.7 390.3,344.4 392.5,343.7 394.6,345.1 396.8,347.3 397.5,349.7 385.3,349.7"/><polygon fill="#ff9c00" points="398.2,341.9 400.4,343.0 403.3,345.9 405.1,348.4 403.3,348.0 400.4,345.1 398.6,343.7"/><polygon fill="#ff6a00" points="385.3,345.1 388.2,346.2 391.0,345.9 393.2,346.9 393.9,349.7 385.3,349.7"/><polygon fill="#00ff55" stroke="#00ff55" stroke-width="2.2" stroke-linejoin="round" points="401.1,330.0 402.9,329.3 403.6,332.2 405.4,335.8 407.6,339.4 409.7,342.3 411.9,345.1 413.7,346.9 413.3,348.0 411.2,346.6 408.3,343.7 405.4,340.1 403.3,336.5 401.8,333.6"/><polygon fill="#f0ff00" points="401.1,330.0 402.9,329.3 403.6,332.2 405.4,335.8 407.6,339.4 409.7,342.3 411.9,345.1 413.7,346.9 413.3,348.0 411.2,346.6 408.3,343.7 405.4,340.1 403.3,336.5 401.8,333.6"/><polygon fill="#00ff55" stroke="#00ff55" stroke-width="2.2" stroke-linejoin="round" points="415.1,326.8 416.9,325.0 418.4,325.7 420.5,327.9 422.7,330.4 424.5,332.9 425.5,336.5 427.0,340.1 428.4,343.7 429.9,347.3 430.6,349.7 419.8,349.7 418.7,345.1 417.6,340.8 416.6,336.5 415.5,332.2 414.9,329.3"/><polygon fill="#f0ff00" points="415.1,326.8 416.9,325.0 418.4,325.7 420.5,327.9 422.7,330.4 424.5,332.9 425.5,336.5 427.0,340.1 428.4,343.7 429.9,347.3 430.6,349.7 419.8,349.7 418.7,345.1 417.6,340.8 416.6,336.5 415.5,332.2 414.9,329.3"/><polygon fill="#ffc800" points="416.9,330.8 418.7,330.0 420.9,331.8 422.7,334.4 424.1,338.0 425.5,341.5 427.0,345.1 428.1,349.7 423.4,349.7 422.0,345.1 420.5,340.8 419.1,337.2 417.6,334.4"/><polygon fill="#ff9c00" points="420.5,335.8 422.0,335.4 423.4,338.0 424.8,341.5 426.3,345.1 427.3,349.7 424.5,349.7 423.4,345.9 422.0,342.3 420.9,338.7"/><polygon fill="#00ff55" stroke="#00ff55" stroke-width="2.2" stroke-linejoin="round" points="413.3,337.2 414.4,338.0 415.5,340.8 416.9,343.7 418.4,346.6 418.7,348.0 416.9,345.9 415.1,343.0 413.7,340.1"/><polygon fill="#f0ff00" points="413.3,337.2 414.4,338.0 415.5,340.8 416.9,343.7 418.4,346.6 418.7,348.0 416.9,345.9 415.1,343.0 413.7,340.1"/><polygon fill="#00ff55" stroke="#00ff55" stroke-width="2.2" stroke-linejoin="round" points="427.3,322.9 428.4,320.7 430.2,319.3 432.7,318.9 432.0,320.3 430.6,322.1 430.2,324.3 430.9,326.4 432.7,327.9 434.2,327.2 434.9,325.0 436.7,323.9 437.8,325.7 438.5,328.2 441.4,330.0 443.5,332.2 445.7,335.1 447.8,338.0 450.0,340.8 451.8,343.0 451.8,349.7 443.5,349.7 441.4,345.1 438.5,341.5 435.6,338.0 432.7,334.4 430.6,331.5 428.4,327.9 427.3,325.0"/><polygon fill="#f0ff00" points="427.3,322.9 428.4,320.7 430.2,319.3 432.7,318.9 432.0,320.3 430.6,322.1 430.2,324.3 430.9,326.4 432.7,327.9 434.2,327.2 434.9,325.0 436.7,323.9 437.8,325.7 438.5,328.2 441.4,330.0 443.5,332.2 445.7,335.1 447.8,338.0 450.0,340.8 451.8,343.0 451.8,349.7 443.5,349.7 441.4,345.1 438.5,341.5 435.6,338.0 432.7,334.4 430.6,331.5 428.4,327.9 427.3,325.0"/><polygon fill="#ffc800" points="433.1,332.2 434.9,332.9 437.0,335.1 439.2,338.0 441.4,340.8 443.5,344.4 445.0,347.3 445.7,349.7 443.5,349.7 441.7,345.9 439.2,342.3 436.3,338.7 434.2,335.4"/><polygon fill="#ffc800" points="443.5,338.0 445.7,337.2 447.8,339.4 450.0,342.3 451.8,344.4 451.8,349.7 449.3,349.7 447.8,346.6 445.7,343.0 443.9,340.1"/><polygon fill="#0028ff" points="413.7,345.9 415.8,345.9 415.8,346.9 413.7,346.9"/><polygon fill="#0028ff" points="415.8,348.0 417.6,348.0 417.6,349.7 415.8,349.7"/><polygon fill="#0028ff" points="420.5,348.0 422.0,348.0 422.0,349.7 420.5,349.7"/><polygon fill="#0028ff" points="435.3,348.0 437.8,348.0 437.8,349.7 435.3,349.7"/><polygon fill="#f0ff00" points="392.1,330.4 392.8,330.4 392.8,332.9 392.1,332.9"/><polygon fill="#f0ff00" points="443.9,314.9 445.0,314.9 445.0,316.0 443.9,316.0"/></g>
<g clip-path="url(#c9)"><rect x="451" y="302" width="65" height="47" fill="#00ff55"/><polygon fill="#00f0ff" points="450.3,332.2 452.1,333.6 453.2,336.5 453.9,340.8 454.6,345.1 455.0,349.7 450.3,349.7"/><polygon fill="#00f0ff" points="461.1,318.2 462.5,319.3 463.2,322.9 463.6,326.4 465.4,327.9 467.5,326.4 468.6,322.9 469.7,321.4 470.8,323.6 471.1,327.9 471.5,332.2 473.3,335.1 475.4,338.0 477.6,340.8 478.7,343.7 478.3,349.7 461.1,349.7 460.0,345.1 459.5,339.4 459.3,333.6 459.6,327.9 460.3,322.9"/><polygon fill="#0028ff" points="461.8,330.8 462.9,330.8 462.9,331.8 461.8,331.8"/><polygon fill="#0028ff" points="463.9,336.9 465.0,336.9 465.0,338.0 463.9,338.0"/><polygon fill="#0028ff" points="460.3,343.0 461.4,343.3 461.8,345.1 462.9,344.4 463.9,342.3 465.0,342.6 465.4,345.1 466.8,346.2 466.5,348.0 464.7,348.0 463.2,348.7 462.1,347.3 460.7,345.9"/><polygon fill="#00f0ff" points="476.2,326.4 477.2,326.8 478.0,330.0 476.9,329.7"/><polygon fill="#00f0ff" points="490.2,320.0 492.0,318.9 494.9,319.3 497.7,321.4 500.6,324.3 502.8,327.2 504.9,330.0 506.0,333.6 505.6,338.0 504.2,340.8 502.4,343.7 501.3,346.6 501.3,349.7 488.4,349.7 488.0,345.1 489.1,342.3 491.3,339.4 493.4,336.5 494.7,332.9 494.1,329.7 492.7,326.8 490.5,323.9 489.5,321.8"/><polygon fill="#0028ff" points="492.0,344.1 493.4,344.1 494.1,346.6 496.3,347.3 498.5,346.9 499.9,347.7 500.6,349.7 492.7,349.7 492.3,346.6"/><polygon fill="#00f0ff" points="510.0,323.6 511.0,322.9 512.1,325.0 514.3,327.2 516.8,329.3 516.8,349.7 502.8,349.7 503.5,346.6 505.6,343.0 507.8,339.4 509.2,335.8 509.6,330.8 509.6,326.4"/><polygon fill="#0028ff" points="505.6,345.9 507.8,344.1 510.0,344.4 512.1,344.1 512.1,346.6 511.0,349.7 504.9,349.7"/><polygon fill="#00ff55" stroke="#00ff55" stroke-width="2.2" stroke-linejoin="round" points="450.3,301.3 467.9,301.3 467.2,304.9 465.4,307.8 463.2,310.6 461.1,313.5 459.6,315.7 459.3,320.0 458.9,325.0 458.8,330.8 459.1,336.5 459.6,342.3 460.7,346.6 461.1,349.7 455.3,349.7 454.6,345.1 453.9,339.4 453.5,333.6 453.9,327.9 455.0,322.9 456.0,318.5 456.8,314.2 455.3,310.6 453.5,307.0 452.1,305.6 450.3,306.3"/><polygon fill="#f0ff00" points="450.3,301.3 467.9,301.3 467.2,304.9 465.4,307.8 463.2,310.6 461.1,313.5 459.6,315.7 459.3,320.0 458.9,325.0 458.8,330.8 459.1,336.5 459.6,342.3 460.7,346.6 461.1,349.7 455.3,349.7 454.6,345.1 453.9,339.4 453.5,333.6 453.9,327.9 455.0,322.9 456.0,318.5 456.8,314.2 455.3,310.6 453.5,307.0 452.1,305.6 450.3,306.3"/><polygon fill="#ffc800" points="457.1,315.7 458.5,314.6 458.9,320.0 458.5,325.7 458.2,330.8 458.5,336.5 459.3,342.3 460.0,346.6 460.3,349.7 456.4,349.7 455.7,345.1 454.6,339.4 454.2,333.6 454.6,329.3 455.7,324.3 456.4,320.0"/><polygon fill="#ff9c00" points="454.6,329.3 456.8,328.2 457.8,330.8 457.8,335.8 458.5,340.8 459.3,345.1 460.0,349.7 457.1,349.7 456.4,345.1 455.3,340.1 454.6,335.1"/><polygon fill="#ff6a00" points="456.8,338.0 457.8,338.0 458.5,342.3 459.3,346.6 459.6,349.7 457.5,349.7 457.1,345.1"/><polygon fill="#00ff55" stroke="#00ff55" stroke-width="2.2" stroke-linejoin="round" points="487.0,301.3 516.8,301.3 516.8,310.6 514.3,312.1 513.6,314.9 514.3,318.5 514.3,321.4 513.2,320.0 511.8,317.5 510.7,314.9 509.6,312.8 510.7,309.9 512.1,307.0 511.0,306.3 508.5,307.8 505.6,309.5 504.2,310.6 504.9,313.5 506.4,317.1 507.8,320.7 508.5,325.0 508.9,330.8 508.5,335.1 507.1,338.7 505.6,340.1 506.4,336.5 506.7,332.2 506.4,327.9 504.9,324.3 502.8,321.4 501.3,319.3 500.3,316.4 500.6,312.1 501.0,307.8 500.6,304.9 499.2,303.4 497.0,303.8 494.1,305.2 491.6,307.0 490.5,309.9 489.8,313.5 488.4,317.1 487.3,319.3 488.4,322.1 489.8,324.3 492.0,327.2 493.4,330.0 494.0,332.9 492.7,335.8 490.5,338.7 488.4,341.5 487.3,345.1 487.7,349.7 478.3,349.7 478.0,345.1 478.2,340.8 478.3,336.5 479.4,335.8 480.5,332.2 480.8,327.9 482.6,325.0 484.4,322.5 485.5,319.6 486.6,316.4 487.0,312.8 486.8,309.2 486.6,305.6"/><polygon fill="#f0ff00" points="487.0,301.3 516.8,301.3 516.8,310.6 514.3,312.1 513.6,314.9 514.3,318.5 514.3,321.4 513.2,320.0 511.8,317.5 510.7,314.9 509.6,312.8 510.7,309.9 512.1,307.0 511.0,306.3 508.5,307.8 505.6,309.5 504.2,310.6 504.9,313.5 506.4,317.1 507.8,320.7 508.5,325.0 508.9,330.8 508.5,335.1 507.1,338.7 505.6,340.1 506.4,336.5 506.7,332.2 506.4,327.9 504.9,324.3 502.8,321.4 501.3,319.3 500.3,316.4 500.6,312.1 501.0,307.8 500.6,304.9 499.2,303.4 497.0,303.8 494.1,305.2 491.6,307.0 490.5,309.9 489.8,313.5 488.4,317.1 487.3,319.3 488.4,322.1 489.8,324.3 492.0,327.2 493.4,330.0 494.0,332.9 492.7,335.8 490.5,338.7 488.4,341.5 487.3,345.1 487.7,349.7 478.3,349.7 478.0,345.1 478.2,340.8 478.3,336.5 479.4,335.8 480.5,332.2 480.8,327.9 482.6,325.0 484.4,322.5 485.5,319.6 486.6,316.4 487.0,312.8 486.8,309.2 486.6,305.6"/><polygon fill="#ffc800" points="482.6,330.8 484.8,330.0 487.7,330.4 489.8,331.5 490.5,333.6 489.1,336.5 487.7,339.4 487.0,342.3 487.3,346.6 487.7,349.7 485.5,349.7 485.9,345.1 485.5,340.8 484.1,338.0 482.6,335.1 482.3,332.9"/><polygon fill="#ff9c00" points="486.2,337.2 487.7,337.2 487.7,338.7 486.2,338.7"/><polygon fill="#ffc800" points="479.8,342.3 481.2,343.0 482.6,346.6 483.4,349.7 480.5,349.7 479.8,345.9"/><polygon fill="#f0ff00" points="473.3,326.1 474.0,326.1 474.0,329.7 473.3,329.7"/><polygon fill="#ffc800" points="514.3,343.7 516.8,342.3 516.8,349.7 513.6,349.7"/><polygon fill="#ffc800" points="450.3,343.0 451.7,343.7 452.4,346.6 452.8,349.7 450.3,349.7"/></g>
<g clip-path="url(#c10)"><rect x="516" y="302" width="65" height="47" fill="#00ff55"/><polygon fill="#00f0ff" points="536.1,325.7 539.7,325.0 543.3,323.6 547.6,322.9 551.2,322.1 557.7,322.1 559.1,324.3 560.6,327.2 562.7,330.0 562.7,332.2 561.3,334.4 559.1,337.2 557.3,340.8 556.3,345.1 555.9,349.7 529.3,349.7 530.4,345.1 532.2,342.3 534.0,339.4 535.8,336.5 536.9,333.6 536.5,330.8 535.8,328.6"/><polygon fill="#0028ff" points="532.2,347.3 547.6,347.3 548.4,346.2 552.7,346.2 554.8,347.3 555.2,349.7 532.2,349.7"/><polygon fill="#00f0ff" points="526.8,336.5 527.9,336.2 527.5,340.1 526.1,343.7 525.0,346.6 524.6,349.7 523.2,349.7 523.5,345.9 524.6,342.3 526.1,339.4"/><polygon fill="#00f0ff" points="522.1,325.4 523.2,325.4 523.2,326.8 522.1,326.8"/><polygon fill="#00f0ff" points="526.1,332.9 527.1,332.9 527.1,334.0 526.1,334.0"/><polygon fill="#00f0ff" points="577.8,319.3 578.0,320.7 576.4,323.6 574.2,326.4 572.8,328.6 572.1,330.8 569.9,331.5 569.2,334.4 567.8,336.5 566.3,339.4 564.9,342.3 565.6,345.1 565.6,349.7 558.4,349.7 558.1,345.1 559.1,341.5 562.0,338.7 564.9,336.5 567.0,334.4 567.8,330.8 568.1,327.2 569.6,325.0 570.6,326.4 572.8,324.3 575.0,321.4"/><polygon fill="#0028ff" points="561.7,348.0 563.1,348.0 563.1,349.7 561.7,349.7"/><polygon fill="#00f0ff" points="567.0,323.9 568.1,323.9 568.1,325.0 567.0,325.0"/><polygon fill="#f0ff00" points="515.3,301.3 531.1,301.3 530.4,304.9 528.9,307.8 527.5,309.9 525.3,311.7 525.0,314.9 526.1,317.8 526.8,320.0 526.4,322.9 525.3,323.6 524.6,321.4 523.2,319.3 520.3,317.8 518.2,315.7 516.7,312.8 515.3,311.3"/><polygon fill="#00ff55" stroke="#00ff55" stroke-width="2.2" stroke-linejoin="round" points="515.3,322.1 517.4,322.9 519.2,324.3 520.7,326.4 519.6,329.3 518.2,331.5 517.8,333.6 519.6,332.9 521.8,330.8 523.5,328.6 524.6,327.9 525.0,330.8 524.6,334.4 523.9,338.0 523.2,342.3 522.8,346.6 522.8,349.7 515.3,349.7"/><polygon fill="#f0ff00" points="515.3,322.1 517.4,322.9 519.2,324.3 520.7,326.4 519.6,329.3 518.2,331.5 517.8,333.6 519.6,332.9 521.8,330.8 523.5,328.6 524.6,327.9 525.0,330.8 524.6,334.4 523.9,338.0 523.2,342.3 522.8,346.6 522.8,349.7 515.3,349.7"/><polygon fill="#ffc800" points="515.3,338.0 518.2,336.5 521.0,334.4 523.2,333.6 523.5,338.0 522.8,342.3 522.1,346.6 522.1,349.7 515.3,349.7"/><polygon fill="#ff9c00" points="515.3,343.0 518.2,341.2 520.3,340.8 521.4,343.7 521.0,349.7 515.3,349.7"/><polygon fill="#00ff55" stroke="#00ff55" stroke-width="2.2" stroke-linejoin="round" points="532.2,320.3 533.3,320.0 533.6,325.0 534.3,329.3 535.1,332.2 534.7,335.8 533.3,339.4 531.5,343.0 529.7,346.6 528.9,349.7 527.9,349.7 528.2,345.1 528.9,340.8 529.3,336.5 529.1,332.2 529.3,327.9 530.4,324.3 531.5,322.1"/><polygon fill="#f0ff00" points="532.2,320.3 533.3,320.0 533.6,325.0 534.3,329.3 535.1,332.2 534.7,335.8 533.3,339.4 531.5,343.0 529.7,346.6 528.9,349.7 527.9,349.7 528.2,345.1 528.9,340.8 529.3,336.5 529.1,332.2 529.3,327.9 530.4,324.3 531.5,322.1"/><polygon fill="#ffc800" points="531.5,335.8 533.3,334.7 532.9,336.5 531.5,337.6"/><polygon fill="#f0ff00" points="532.0,314.9 533.1,314.9 533.1,317.8 532.0,317.8"/><polygon fill="#f0ff00" points="557.0,301.3 560.2,301.3 559.9,304.9 558.4,303.4"/><polygon fill="#f0ff00" points="564.9,301.3 578.6,301.3 579.3,304.9 580.0,307.8 577.8,307.0 575.7,304.9 573.5,303.4 571.4,304.2 569.9,306.3 570.3,309.2 571.7,312.8 572.1,317.8 571.7,322.9 571.0,322.1 570.3,317.8 569.6,313.5 568.8,309.9 567.8,307.0 566.3,304.2"/><polygon fill="#00ff55" stroke="#00ff55" stroke-width="2.2" stroke-linejoin="round" points="563.1,326.1 564.5,327.2 566.3,328.6 566.7,330.0 566.0,333.6 564.5,333.6 564.2,330.8 563.5,328.6"/><polygon fill="#f0ff00" points="563.1,326.1 564.5,327.2 566.3,328.6 566.7,330.0 566.0,333.6 564.5,333.6 564.2,330.8 563.5,328.6"/><polygon fill="#00ff55" stroke="#00ff55" stroke-width="2.2" stroke-linejoin="round" points="581.8,323.6 580.0,326.4 578.6,326.4 577.1,328.6 575.7,330.8 573.5,332.9 571.4,334.4 569.9,336.5 568.5,340.1 567.4,343.7 566.3,346.6 566.3,349.7 581.8,349.7"/><polygon fill="#f0ff00" points="581.8,323.6 580.0,326.4 578.6,326.4 577.1,328.6 575.7,330.8 573.5,332.9 571.4,334.4 569.9,336.5 568.5,340.1 567.4,343.7 566.3,346.6 566.3,349.7 581.8,349.7"/><polygon fill="#ffc800" points="581.8,335.8 577.8,336.5 574.2,338.0 571.4,340.8 569.2,344.4 567.8,348.0 567.4,349.7 581.8,349.7"/><polygon fill="#ff9c00" points="581.8,340.1 577.8,340.1 575.0,341.5 572.1,344.4 570.3,347.3 569.6,349.7 581.8,349.7"/><polygon fill="#ff6a00" points="581.8,345.9 577.8,346.2 575.0,346.9 573.5,349.7 581.8,349.7"/></g>
<g clip-path="url(#c11)"><rect x="581" y="302" width="68" height="47" fill="#00ff55"/><polygon fill="#00f0ff" points="580.3,328.6 581.7,325.7 583.5,322.1 585.3,320.3 589.6,320.0 592.5,320.7 593.9,322.9 593.2,325.7 592.5,328.6 592.1,332.2 592.9,335.1 594.7,338.0 597.5,340.8 600.4,343.7 602.6,345.9 601.9,348.0 600.8,349.7 590.3,349.7 591.1,345.1 590.7,340.8 588.9,338.0 586.8,336.5 583.9,335.8 581.0,334.4 580.3,333.6"/><polygon fill="#00f0ff" points="597.2,322.9 599.0,320.7 601.9,319.3 605.4,319.1 608.3,320.0 609.8,322.9 611.2,326.4 613.4,330.8 615.5,335.1 617.0,339.4 617.7,343.0 616.2,345.9 614.1,348.0 612.6,349.7 605.4,349.7 607.2,346.6 608.3,344.1 607.7,340.8 606.2,338.0 604.0,335.1 601.9,332.2 599.3,329.3 597.9,326.4"/><polygon fill="#00f0ff" points="641.0,333.6 642.1,332.9 642.1,337.2 640.7,340.1 638.5,342.3 636.4,344.4 634.2,345.9 631.3,347.3 629.2,348.7 627.0,349.7 624.9,349.7 627.0,347.3 629.9,345.1 632.8,344.4 635.6,343.0 638.5,340.1 640.3,337.2"/><polygon fill="#00f0ff" points="582.1,345.1 583.9,343.0 585.3,344.4 584.2,347.3 583.5,349.7 581.7,349.7"/><polygon fill="#0028ff" points="591.1,348.0 592.1,348.0 592.1,349.7 591.1,349.7"/><polygon fill="#0028ff" points="609.0,347.3 610.5,347.3 610.5,348.4 609.0,348.4"/><polygon fill="#0028ff" points="611.9,346.9 613.0,346.9 613.0,349.7 611.9,349.7"/><polygon fill="#0028ff" points="631.7,345.9 633.1,345.9 633.1,347.3 631.7,347.3"/><polygon fill="#00ff55" stroke="#00ff55" stroke-width="2.2" stroke-linejoin="round" points="603.3,301.3 649.3,301.3 649.3,307.0 644.3,306.3 641.4,305.6 638.5,304.9 636.4,304.2 634.2,305.2 632.4,306.7 633.5,308.8 635.6,311.3 637.8,314.9 640.0,319.3 641.4,323.6 641.8,326.4 640.0,325.7 637.8,323.6 634.9,321.4 632.0,319.3 629.2,317.1 627.0,315.3 625.2,312.8 624.1,311.3 622.3,311.3 620.5,312.8 619.8,314.9 620.5,317.8 622.7,319.6 626.3,321.8 629.9,323.9 633.5,325.7 636.4,327.2 638.5,329.3 638.9,332.2 638.5,335.8 637.1,339.4 634.9,342.3 632.8,343.7 631.3,343.0 631.7,339.4 632.8,335.8 633.8,332.2 633.5,330.0 632.0,330.0 631.0,332.2 630.6,335.8 629.9,339.4 628.5,343.0 626.3,345.9 624.1,348.0 622.7,349.7 614.1,349.7 615.5,346.6 617.7,344.4 618.4,341.5 617.7,338.0 616.2,333.6 614.4,330.0 612.6,325.7 611.9,321.4 611.6,316.4 611.2,312.1 609.8,309.2 607.6,306.3 605.4,304.2"/><polygon fill="#f0ff00" points="603.3,301.3 649.3,301.3 649.3,307.0 644.3,306.3 641.4,305.6 638.5,304.9 636.4,304.2 634.2,305.2 632.4,306.7 633.5,308.8 635.6,311.3 637.8,314.9 640.0,319.3 641.4,323.6 641.8,326.4 640.0,325.7 637.8,323.6 634.9,321.4 632.0,319.3 629.2,317.1 627.0,315.3 625.2,312.8 624.1,311.3 622.3,311.3 620.5,312.8 619.8,314.9 620.5,317.8 622.7,319.6 626.3,321.8 629.9,323.9 633.5,325.7 636.4,327.2 638.5,329.3 638.9,332.2 638.5,335.8 637.1,339.4 634.9,342.3 632.8,343.7 631.3,343.0 631.7,339.4 632.8,335.8 633.8,332.2 633.5,330.0 632.0,330.0 631.0,332.2 630.6,335.8 629.9,339.4 628.5,343.0 626.3,345.9 624.1,348.0 622.7,349.7 614.1,349.7 615.5,346.6 617.7,344.4 618.4,341.5 617.7,338.0 616.2,333.6 614.4,330.0 612.6,325.7 611.9,321.4 611.6,316.4 611.2,312.1 609.8,309.2 607.6,306.3 605.4,304.2"/><polygon fill="#ffc800" points="616.2,325.0 617.7,324.3 619.8,325.7 622.7,327.9 625.6,330.8 628.5,332.9 629.9,334.4 629.2,337.2 627.0,340.1 624.1,343.0 621.3,345.1 618.4,346.6 616.2,348.0 615.5,346.6 617.7,344.4 618.5,341.5 617.8,338.0 616.6,333.6 615.9,329.3"/><polygon fill="#ff9c00" points="619.8,335.8 622.0,334.4 624.1,334.4 627.0,335.8 628.5,337.2 627.0,339.4 624.9,341.5 622.7,343.7 620.5,345.1 618.4,345.9 618.7,343.0 618.4,339.4"/><polygon fill="#f0ff00" points="642.1,308.5 644.3,309.2 649.3,312.1 649.3,307.8 644.3,307.0"/><polygon fill="#00ff55" stroke="#00ff55" stroke-width="2.2" stroke-linejoin="round" points="643.6,330.0 645.0,330.8 649.3,332.2 649.3,349.7 637.8,349.7 639.2,346.6 641.4,343.0 642.8,339.4 643.2,334.4"/><polygon fill="#f0ff00" points="643.6,330.0 645.0,330.8 649.3,332.2 649.3,349.7 637.8,349.7 639.2,346.6 641.4,343.0 642.8,339.4 643.2,334.4"/><polygon fill="#ffc800" points="644.3,335.8 649.3,335.1 649.3,349.7 642.1,349.7 643.2,345.1 643.9,340.8"/><polygon fill="#00ff55" stroke="#00ff55" stroke-width="2.2" stroke-linejoin="round" points="594.3,330.0 596.1,328.2 598.3,329.3 601.1,332.2 604.0,335.8 606.2,338.7 607.6,342.3 608.0,344.4 606.9,345.9 605.4,348.0 604.0,349.7 601.1,349.7 603.3,346.6 605.1,344.4 605.1,342.3 603.3,339.4 601.1,337.2 598.3,334.4 595.4,332.2"/><polygon fill="#f0ff00" points="594.3,330.0 596.1,328.2 598.3,329.3 601.1,332.2 604.0,335.8 606.2,338.7 607.6,342.3 608.0,344.4 606.9,345.9 605.4,348.0 604.0,349.7 601.1,349.7 603.3,346.6 605.1,344.4 605.1,342.3 603.3,339.4 601.1,337.2 598.3,334.4 595.4,332.2"/><polygon fill="#ffc800" points="605.8,342.3 606.9,343.7 605.8,345.9 604.7,348.0 603.3,349.7 602.2,349.7 604.0,346.6 605.4,344.4"/><polygon fill="#00ff55" stroke="#00ff55" stroke-width="2.2" stroke-linejoin="round" points="580.3,339.4 582.4,340.8 582.8,343.7 581.7,346.6 581.0,349.7 580.3,349.7"/><polygon fill="#f0ff00" points="580.3,339.4 582.4,340.8 582.8,343.7 581.7,346.6 581.0,349.7 580.3,349.7"/><polygon fill="#00ff55" stroke="#00ff55" stroke-width="2.2" stroke-linejoin="round" points="587.5,338.7 589.6,340.1 590.7,343.0 590.3,346.6 589.6,349.7 583.9,349.7 585.0,346.6 586.4,343.7 587.1,340.8"/><polygon fill="#f0ff00" points="587.5,338.7 589.6,340.1 590.7,343.0 590.3,346.6 589.6,349.7 583.9,349.7 585.0,346.6 586.4,343.7 587.1,340.8"/><polygon fill="#ffc800" points="587.8,342.3 589.6,343.0 589.5,346.6 588.9,349.7 585.3,349.7 586.4,346.6"/><polygon fill="#ff9c00" points="586.0,346.6 588.2,346.2 588.2,349.7 584.6,349.7"/><polygon fill="#f0ff00" points="587.1,301.3 589.3,301.3 591.8,304.9 591.8,306.7 589.6,304.5"/><polygon fill="#f0ff00" points="594.1,313.1 595.0,313.1 595.0,316.7 594.1,316.7"/><polygon fill="#f0ff00" points="581.0,335.1 582.8,335.1 582.8,335.8 581.0,335.8"/><polygon fill="#f0ff00" points="583.2,336.9 586.0,336.9 586.0,338.0 583.2,338.0"/></g>
<g clip-path="url(#c12)"><rect x="256" y="347" width="65" height="46" fill="#00f0ff"/><polygon fill="#0028ff" points="265.3,346.3 275.4,346.3 274.7,349.9 272.5,352.0 270.4,354.2 269.7,357.1 270.7,359.9 273.3,362.8 275.4,365.0 276.1,362.8 275.4,359.9 275.1,356.3 276.1,354.9 279.7,353.5 282.6,351.3 283.7,346.3 298.4,346.3 297.0,349.9 296.3,352.8 294.1,354.9 292.0,357.1 291.2,359.9 290.5,363.5 291.2,366.4 292.7,369.3 294.1,371.4 295.2,375.8 295.5,379.4 294.8,383.0 292.7,385.8 290.5,388.0 288.4,389.4 286.9,388.0 286.2,384.4 284.8,380.8 282.6,377.2 280.8,374.3 279.7,370.7 279.0,374.3 279.7,377.9 278.3,377.2 276.9,378.6 275.4,380.8 274.0,383.0 272.9,385.1 272.2,383.0 273.3,379.4 272.9,375.8 272.2,371.4 271.5,367.9 269.7,365.0 267.5,362.8 264.6,361.4 262.5,359.9 261.0,357.1 261.8,354.2 263.9,351.3"/><polygon fill="#0000aa" points="264.3,357.1 266.1,354.9 268.2,356.3 267.9,358.5 266.1,359.6 264.6,358.9"/><polygon fill="#0000aa" points="277.6,358.5 280.4,357.1 284.0,356.3 287.6,355.3 290.5,354.9 289.8,357.1 287.6,359.2 286.2,361.4 283.3,360.7 281.2,362.1 279.0,362.8 277.6,361.0"/><polygon fill="#0000aa" points="278.3,368.6 279.7,367.5 281.2,369.3 283.3,367.9 286.2,366.4 288.4,368.6 289.8,370.7 290.5,372.5 287.6,372.2 284.8,373.6 282.6,372.9 280.8,370.7 279.0,370.0"/><polygon fill="#7b00aa" points="279.4,370.0 280.8,370.4 281.2,373.6 282.6,376.5 284.4,379.4 285.8,382.2 286.6,385.8 286.2,388.7 284.0,389.1 281.9,388.7 280.8,387.3 281.5,384.4 281.9,380.8 280.8,377.9 280.1,374.3"/><polygon fill="#0028ff" points="257.1,368.6 259.6,370.0 261.4,370.7 261.8,374.3 260.3,375.8 258.9,374.3 257.8,375.8 257.1,376.5"/><polygon fill="#0028ff" points="262.5,382.2 263.9,377.2 265.3,374.3 266.8,375.8 268.6,378.6 270.0,382.2 270.4,385.8 269.3,388.7 266.8,389.4 264.6,389.1 263.2,387.3 262.1,385.1"/><polygon fill="#7b00aa" points="265.7,377.9 267.1,378.6 267.9,381.5 268.2,385.1 267.5,388.0 265.7,387.3 265.0,383.7 265.2,380.1"/><polygon fill="#0028ff" points="299.1,346.3 302.7,346.3 303.1,349.9 302.7,352.8 302.0,355.6 300.6,356.3 299.1,354.9 298.8,351.3"/><polygon fill="#0028ff" points="293.0,391.7 293.7,389.4 296.3,388.7 299.1,388.7 302.7,387.6 306.3,386.5 309.2,385.1 311.0,382.6 312.8,379.4 313.5,375.8 311.4,375.8 310.6,373.6 311.4,370.7 312.8,367.9 312.1,363.5 314.2,365.7 317.1,368.6 319.3,370.7 321.8,369.3 321.8,391.7"/><polygon fill="#0000aa" points="315.7,372.9 317.8,371.4 319.3,372.2 319.6,377.2 318.6,381.5 317.1,379.4 316.0,375.8"/><polygon fill="#7b00aa" points="299.1,391.7 300.6,389.4 303.5,388.3 306.3,388.0 309.2,386.5 311.4,384.4 313.5,380.8 314.6,377.2 315.7,378.6 317.1,381.5 317.8,385.1 319.3,387.3 321.8,387.6 321.8,391.7"/><polygon fill="#00ff55" points="263.2,366.4 265.3,365.0 268.2,365.7 270.4,367.9 271.1,370.7 271.5,374.3 270.4,373.6 268.9,370.7 266.8,369.3 264.6,368.6"/><polygon fill="#00ff55" points="270.7,356.7 272.9,354.5 274.0,357.8 273.6,361.0 271.7,359.6"/><polygon fill="#f0ff00" points="271.5,356.3 272.9,356.0 273.1,359.2 272.0,358.9"/><polygon fill="#00ff55" points="276.1,346.3 283.7,346.3 282.7,350.2 280.4,352.2 277.6,353.6 275.4,354.3 274.0,352.8 275.3,350.5"/><polygon fill="#f0ff00" points="278.3,346.3 282.6,346.3 281.9,349.9 279.7,351.0 277.9,349.9"/><polygon fill="#ffc800" points="279.0,346.3 281.2,346.3 280.8,349.2 279.4,349.5"/><polygon fill="#00ff55" points="296.3,375.8 299.1,374.3 299.9,372.2 302.0,370.7 304.9,370.0 307.8,371.4 309.2,374.3 308.8,377.2 307.8,380.1 306.3,383.0 304.9,384.4 302.0,383.7 300.6,380.8 299.1,379.4 297.3,378.6"/><polygon fill="#00ff55" points="294.8,387.3 296.3,384.4 299.1,383.0 300.6,384.4 299.1,387.3 297.0,389.4 295.2,389.4"/><polygon fill="#00ff55" points="275.4,384.4 276.9,380.8 278.3,378.6 279.4,380.1 279.7,383.0 279.0,386.5 277.6,388.7 275.8,389.1"/><polygon fill="#00ff55" points="258.5,373.6 259.6,373.6 259.6,375.8 258.5,375.8"/><polygon fill="#00ff55" points="259.6,388.7 262.5,389.1 262.5,391.7 259.6,391.7"/><polygon fill="#00ff55" stroke="#00ff55" stroke-width="2.2" stroke-linejoin="round" points="271.8,389.1 275.4,389.1 275.8,391.7 271.5,391.7"/><polygon fill="#f0ff00" points="271.8,389.1 275.4,389.1 275.8,391.7 271.5,391.7"/><polygon fill="#00ff55" stroke="#00ff55" stroke-width="2.2" stroke-linejoin="round" points="257.1,346.3 264.6,346.3 263.2,349.9 261.0,352.8 259.6,354.9 258.2,354.2 257.1,354.9"/><polygon fill="#f0ff00" points="257.1,346.3 264.6,346.3 263.2,349.9 261.0,352.8 259.6,354.9 258.2,354.2 257.1,354.9"/><polygon fill="#ffc800" points="257.1,346.3 262.5,346.3 261.0,349.9 258.9,352.0 257.1,352.8"/><polygon fill="#00ff55" stroke="#00ff55" stroke-width="2.2" stroke-linejoin="round" points="257.1,359.2 259.2,359.6 260.0,362.1 259.2,365.0 258.2,367.1 257.1,367.9"/><polygon fill="#f0ff00" points="257.1,359.2 259.2,359.6 260.0,362.1 259.2,365.0 258.2,367.1 257.1,367.9"/><polygon fill="#00f0ff" stroke="#00f0ff" stroke-width="4.4" stroke-linejoin="round" points="292.0,359.9 293.4,357.8 296.3,356.3 299.1,356.0 302.0,357.1 304.9,358.9 307.0,361.4 307.8,365.0 306.3,367.9 304.2,370.0 302.0,371.4 301.3,374.3 300.6,376.5 299.9,374.3 299.1,371.4 297.0,369.3 294.1,367.9 292.0,365.7 291.1,362.8"/><polygon fill="#00ff55" stroke="#00ff55" stroke-width="2.2" stroke-linejoin="round" points="292.0,359.9 293.4,357.8 296.3,356.3 299.1,356.0 302.0,357.1 304.9,358.9 307.0,361.4 307.8,365.0 306.3,367.9 304.2,370.0 302.0,371.4 301.3,374.3 300.6,376.5 299.9,374.3 299.1,371.4 297.0,369.3 294.1,367.9 292.0,365.7 291.1,362.8"/><polygon fill="#f0ff00" points="292.0,359.9 293.4,357.8 296.3,356.3 299.1,356.0 302.0,357.1 304.9,358.9 307.0,361.4 307.8,365.0 306.3,367.9 304.2,370.0 302.0,371.4 301.3,374.3 300.6,376.5 299.9,374.3 299.1,371.4 297.0,369.3 294.1,367.9 292.0,365.7 291.1,362.8"/><polygon fill="#ffc800" points="294.1,359.2 297.7,357.4 300.6,357.8 303.5,359.6 305.6,362.1 306.0,365.7 304.2,368.2 302.0,369.6 300.6,370.7 299.1,368.6 296.3,366.4 294.1,364.3 293.4,361.4"/><polygon fill="#ff9c00" points="296.3,360.7 298.4,359.2 299.9,361.4 300.2,365.0 299.1,367.1 297.3,365.0"/><polygon fill="#ff9c00" points="302.0,362.1 303.8,361.4 304.9,364.3 303.5,366.4 302.4,365.0"/><polygon fill="#00f0ff" stroke="#00f0ff" stroke-width="4.4" stroke-linejoin="round" points="304.2,346.3 321.8,346.3 321.8,368.6 319.3,370.0 317.1,367.9 315.0,365.0 312.8,362.1 310.6,359.2 308.5,356.3 306.3,353.5 304.9,350.6"/><polygon fill="#00ff55" stroke="#00ff55" stroke-width="2.2" stroke-linejoin="round" points="304.2,346.3 321.8,346.3 321.8,368.6 319.3,370.0 317.1,367.9 315.0,365.0 312.8,362.1 310.6,359.2 308.5,356.3 306.3,353.5 304.9,350.6"/><polygon fill="#f0ff00" points="304.2,346.3 321.8,346.3 321.8,368.6 319.3,370.0 317.1,367.9 315.0,365.0 312.8,362.1 310.6,359.2 308.5,356.3 306.3,353.5 304.9,350.6"/><polygon fill="#ffc800" points="305.6,346.3 321.8,346.3 321.8,367.1 319.3,368.2 317.1,366.1 315.0,363.2 312.8,360.3 310.6,357.4 308.5,354.2 306.7,350.6"/><polygon fill="#ff9c00" points="307.0,346.3 321.8,346.3 321.8,364.3 319.3,365.7 317.1,363.5 315.0,360.7 312.8,357.8 310.6,354.9 308.8,351.3"/><polygon fill="#ff6a00" points="307.8,346.3 313.5,346.3 315.7,349.9 315.0,354.2 313.5,357.1 311.4,354.2 309.6,351.3"/><polygon fill="#ff6a00" points="317.1,346.3 321.8,346.3 321.8,361.4 319.3,362.8 317.8,359.9 317.1,355.6 316.8,351.3"/><polygon fill="#ffc800" points="313.5,351.3 315.0,349.9 315.7,352.8 315.3,356.3 314.2,354.9"/><polygon fill="#ff0f0f" points="308.8,351.0 309.9,351.0 309.9,353.1 308.8,353.1"/></g>
<g clip-path="url(#c13)"><rect x="321" y="347" width="65" height="46" fill="#0028ff"/><polygon fill="#00f0ff" points="331.8,347.7 333.6,347.7 333.8,351.3 331.8,351.5"/><polygon fill="#00f0ff" points="320.3,368.6 323.2,369.3 325.3,368.6 327.5,365.7 328.9,362.8 330.0,359.2 329.6,365.0 327.8,369.3 326.4,372.9 325.3,374.3 323.9,371.4 322.1,370.7 320.3,371.1"/><polygon fill="#00ff55" points="321.0,368.2 323.2,368.6 325.0,367.5 326.8,365.0 328.2,362.5 329.1,360.7 328.5,365.0 327.1,368.6 325.7,371.8 324.6,370.7 322.8,369.9"/><polygon fill="#0000aa" points="347.6,357.8 349.8,356.3 354.1,356.0 358.4,356.3 360.5,357.8 359.1,359.9 357.0,362.1 355.5,365.0 354.8,367.9 357.0,370.0 358.4,372.2 357.0,373.6 354.1,372.9 351.9,371.4 350.5,368.6 349.0,365.0 348.0,361.4"/><polygon fill="#7b00aa" points="349.0,361.0 356.2,361.0 354.8,363.5 353.4,365.7 351.9,366.1 350.5,363.5"/><polygon fill="#00f0ff" points="339.0,381.5 341.1,377.9 342.6,375.4 345.4,374.3 349.8,375.0 352.6,376.5 355.5,378.6 357.7,380.8 359.1,384.4 360.2,388.0 360.5,391.7 352.6,391.7 349.8,388.7 346.9,386.5 344.0,384.4 341.1,383.0"/><polygon fill="#00ff55" points="349.8,383.0 351.9,379.4 354.1,380.8 356.2,383.0 357.0,385.8 357.7,388.7 357.0,390.5 354.8,390.1 352.6,389.1 350.5,387.3 349.4,385.1"/><polygon fill="#0028ff" points="355.5,380.8 357.0,380.8 357.0,382.2 355.5,382.2"/><polygon fill="#00f0ff" points="359.8,372.9 361.3,371.4 363.4,369.3 364.1,370.7 363.1,374.3 362.3,377.9 361.3,380.8 359.8,379.4 359.1,375.8"/><polygon fill="#0000aa" points="367.0,368.6 370.6,366.4 374.2,363.5 377.1,360.7 378.5,357.8 378.9,362.1 378.5,365.7 380.7,362.8 382.8,360.7 383.6,363.5 382.8,367.1 384.3,370.0 386.8,370.7 386.8,391.7 361.3,391.7 364.1,389.4 367.0,387.3 368.8,383.0 369.5,377.2 369.5,371.4"/><polygon fill="#7b00aa" points="375.6,371.4 377.8,369.3 379.6,371.4 380.7,374.3 383.6,373.6 386.8,372.9 386.8,391.7 370.6,391.7 371.3,387.3 373.5,384.4 374.6,380.8 374.2,377.2 374.9,374.3"/><polygon fill="#7b00aa" points="367.0,381.5 368.5,380.8 368.8,384.4 369.9,387.3 367.0,388.7 366.7,385.1"/><polygon fill="#be00aa" points="383.9,385.1 386.8,384.4 386.8,389.4 385.0,388.7"/><polygon fill="#0000aa" points="320.3,370.0 322.4,371.4 324.6,374.3 326.8,375.8 328.9,374.3 330.3,372.2 331.1,375.0 333.2,376.5 333.6,378.6 331.1,379.4 328.2,378.6 326.0,377.9 323.9,378.6 320.3,380.1"/><polygon fill="#7b00aa" points="320.3,380.1 323.9,378.6 326.0,377.9 328.2,378.6 331.1,379.4 333.9,380.8 337.5,383.0 341.1,384.4 344.0,385.8 346.9,388.0 349.8,389.4 351.9,391.7 320.3,391.7"/><polygon fill="#0028ff" points="323.2,380.8 324.6,380.4 325.0,385.8 323.5,386.5"/><polygon fill="#0028ff" points="327.8,379.4 328.9,379.0 329.3,383.0 328.2,383.7"/><polygon fill="#be00aa" points="336.1,386.2 339.0,385.8 342.6,386.9 345.4,388.3 347.6,390.1 348.3,391.7 336.5,391.7"/><polygon fill="#00f0ff" points="378.5,357.1 380.7,355.6 383.6,356.3 386.8,356.0 386.8,370.0 384.3,369.3 382.8,367.9 382.1,365.0 383.6,362.1 382.8,359.9 380.7,361.4 379.2,364.3 377.8,363.5 378.2,359.9"/><polygon fill="#00ff55" points="383.6,362.1 386.8,361.4 386.8,367.1 384.6,366.8"/><polygon fill="#00f0ff" stroke="#00f0ff" stroke-width="4.4" stroke-linejoin="round" points="320.3,346.3 328.9,346.3 328.5,351.3 327.8,356.3 327.1,361.4 325.3,365.0 323.9,367.9 322.4,368.6 320.3,367.9"/><polygon fill="#00ff55" stroke="#00ff55" stroke-width="2.2" stroke-linejoin="round" points="320.3,346.3 328.9,346.3 328.5,351.3 327.8,356.3 327.1,361.4 325.3,365.0 323.9,367.9 322.4,368.6 320.3,367.9"/><polygon fill="#f0ff00" points="320.3,346.3 328.9,346.3 328.5,351.3 327.8,356.3 327.1,361.4 325.3,365.0 323.9,367.9 322.4,368.6 320.3,367.9"/><polygon fill="#ffc800" points="320.3,346.3 328.9,346.3 328.2,351.3 326.8,355.6 323.9,357.1 320.3,356.3"/><polygon fill="#ff9c00" points="320.3,346.3 323.2,346.3 322.8,351.3 321.7,354.9 320.3,355.6"/><polygon fill="#ff9c00" points="326.8,346.3 328.9,346.3 328.5,349.2 327.1,349.2"/><polygon fill="#00f0ff" stroke="#00f0ff" stroke-width="4.4" stroke-linejoin="round" points="336.5,346.3 346.2,346.3 346.5,351.3 346.2,357.1 345.4,362.1 343.3,365.7 340.4,367.9 337.5,369.3 335.4,370.0 335.0,366.4 335.4,361.4 335.0,356.3 335.4,351.3"/><polygon fill="#00ff55" stroke="#00ff55" stroke-width="2.2" stroke-linejoin="round" points="336.5,346.3 346.2,346.3 346.5,351.3 346.2,357.1 345.4,362.1 343.3,365.7 340.4,367.9 337.5,369.3 335.4,370.0 335.0,366.4 335.4,361.4 335.0,356.3 335.4,351.3"/><polygon fill="#f0ff00" points="336.5,346.3 346.2,346.3 346.5,351.3 346.2,357.1 345.4,362.1 343.3,365.7 340.4,367.9 337.5,369.3 335.4,370.0 335.0,366.4 335.4,361.4 335.0,356.3 335.4,351.3"/><polygon fill="#ffc800" points="337.2,346.3 345.8,346.3 345.8,352.8 345.1,359.2 343.3,362.8 340.4,365.0 337.9,364.3 336.5,360.7 336.2,354.2"/><polygon fill="#ff9c00" points="337.9,348.4 339.7,347.7 344.0,348.1 345.4,351.3 345.1,356.3 343.3,359.9 341.1,361.4 339.0,359.2 337.5,356.3 337.2,352.0"/><polygon fill="#00f0ff" stroke="#00f0ff" stroke-width="4.4" stroke-linejoin="round" points="352.6,346.3 386.8,346.3 386.8,349.9 384.3,351.3 382.1,353.5 379.2,356.3 376.4,359.2 373.5,361.4 370.6,363.5 367.7,365.3 364.9,367.1 362.7,368.6 360.5,370.7 358.4,370.0 356.2,368.6 355.5,366.4 357.0,364.3 359.1,362.1 361.3,359.2 362.0,356.3 360.5,354.2 358.4,352.0 355.5,349.9 353.7,348.1"/><polygon fill="#00ff55" stroke="#00ff55" stroke-width="2.2" stroke-linejoin="round" points="352.6,346.3 386.8,346.3 386.8,349.9 384.3,351.3 382.1,353.5 379.2,356.3 376.4,359.2 373.5,361.4 370.6,363.5 367.7,365.3 364.9,367.1 362.7,368.6 360.5,370.7 358.4,370.0 356.2,368.6 355.5,366.4 357.0,364.3 359.1,362.1 361.3,359.2 362.0,356.3 360.5,354.2 358.4,352.0 355.5,349.9 353.7,348.1"/><polygon fill="#f0ff00" points="352.6,346.3 386.8,346.3 386.8,349.9 384.3,351.3 382.1,353.5 379.2,356.3 376.4,359.2 373.5,361.4 370.6,363.5 367.7,365.3 364.9,367.1 362.7,368.6 360.5,370.7 358.4,370.0 356.2,368.6 355.5,366.4 357.0,364.3 359.1,362.1 361.3,359.2 362.0,356.3 360.5,354.2 358.4,352.0 355.5,349.9 353.7,348.1"/><polygon fill="#00ff55" points="376.4,351.3 378.5,350.6 382.1,351.3 386.8,350.6 386.8,355.3 383.6,356.0 380.7,355.3 378.5,356.7 377.1,358.5 375.6,359.6 377.1,355.6"/><polygon fill="#ffc800" points="355.5,346.3 380.7,346.3 380.0,349.9 377.8,353.5 374.9,356.3 372.0,358.5 369.2,360.7 366.3,362.8 363.4,365.0 361.3,366.4 359.8,365.7 361.3,362.8 363.4,359.9 364.1,356.3 362.7,353.5 360.5,351.3 357.7,348.8"/><polygon fill="#ff9c00" points="359.1,346.3 364.1,346.3 366.3,349.9 368.5,349.2 370.6,348.8 372.0,351.3 371.3,354.2 369.2,357.1 367.0,358.9 364.9,359.2 364.1,356.3 363.4,353.5 361.3,350.6"/><polygon fill="#ff9c00" points="380.0,346.3 386.8,346.3 386.8,349.2 384.3,349.9 381.4,349.2"/><polygon fill="#f0ff00" points="359.1,390.0 360.9,390.0 360.9,391.7 359.1,391.7"/><polygon fill="#f0ff00" points="371.0,390.0 372.8,390.0 372.8,391.7 371.0,391.7"/><polygon fill="#00f0ff" points="364.1,390.0 370.6,390.0 370.6,391.7 364.1,391.7"/><polygon fill="#00f0ff" points="379.2,390.0 381.0,390.0 381.0,391.7 379.2,391.7"/></g>
<g clip-path="url(#c14)"><rect x="386" y="347" width="65" height="46" fill="#00f0ff"/><polygon fill="#00ff55" points="385.3,364.3 390.3,363.9 394.6,363.2 397.5,364.6 398.9,367.1 398.2,370.0 396.8,372.9 395.3,371.4 393.2,368.6 390.3,367.1 388.2,366.8 385.3,367.1"/><polygon fill="#00ff55" points="409.7,355.6 412.6,354.2 415.5,354.9 418.4,356.3 422.0,357.1 426.3,356.3 430.6,355.6 434.9,357.8 437.0,360.3 435.6,362.5 433.5,363.9 430.6,365.0 426.3,366.4 422.0,367.5 418.4,368.9 415.5,370.4 412.6,371.4 410.1,372.2 408.3,370.0 407.2,366.4 407.6,363.5 408.3,359.9 409.0,357.8"/><polygon fill="#00ff55" points="421.2,372.9 423.4,371.4 426.3,370.7 430.6,370.7 432.7,368.6 435.6,366.4 437.8,365.7 436.3,368.6 433.5,371.4 431.3,374.3 429.9,377.2 428.4,380.8 426.3,383.0 424.1,381.5 422.7,378.6 421.2,375.8"/><polygon fill="#00ff55" points="410.4,375.8 412.6,377.9 414.8,380.8 416.9,383.0 419.8,385.8 422.0,388.0 420.5,389.4 417.6,388.0 414.8,385.1 411.9,381.5 410.1,378.6"/><polygon fill="#00ff55" points="400.4,349.2 404.7,348.1 409.7,348.8 414.8,348.8 417.6,347.4 420.5,348.1 419.8,351.3 416.9,352.8 414.0,354.2 412.6,356.3 409.7,355.6 407.6,357.8 404.7,359.2 401.8,360.7 400.4,357.8 400.7,353.5"/><polygon fill="#0028ff" points="385.3,367.9 388.2,368.6 390.3,370.7 393.2,374.3 396.1,377.2 398.2,378.6 398.6,374.3 398.9,370.0 400.4,366.4 401.8,363.5 403.3,363.2 404.0,366.4 405.4,365.7 407.2,365.0 407.9,368.6 408.3,372.9 409.0,377.2 410.4,380.8 412.6,383.7 414.8,386.5 413.3,388.7 410.4,389.1 407.6,389.4 406.1,391.7 385.3,391.7"/><polygon fill="#0000aa" points="385.3,372.9 388.2,374.3 391.0,377.2 393.9,380.1 396.8,382.2 399.7,384.4 402.5,385.8 401.8,383.0 399.7,380.8 398.6,377.9 398.9,373.6 400.0,369.3 401.5,366.4 402.9,367.1 403.3,371.4 404.0,375.8 405.4,379.4 407.6,383.0 409.7,385.8 411.2,388.0 409.0,388.7 406.1,389.1 404.0,389.4 396.1,390.1 395.3,391.7 385.3,391.7"/><polygon fill="#7b00aa" points="385.3,377.2 388.2,378.6 391.0,381.5 393.9,384.4 396.8,387.3 398.9,389.1 395.3,389.4 395.0,391.7 385.3,391.7"/><polygon fill="#be00aa" points="385.3,385.8 388.2,386.2 389.2,388.0 387.4,389.1 385.3,388.7"/><polygon fill="#7b00aa" points="400.4,380.8 402.5,379.4 404.7,380.1 405.4,383.0 407.6,385.8 406.9,388.3 404.0,388.0 401.8,385.1 400.7,383.0"/><polygon fill="#0028ff" points="414.8,357.1 416.9,354.9 419.1,354.2 418.7,356.0 416.6,357.8 414.4,359.2"/><polygon fill="#0028ff" points="421.2,348.4 422.7,348.1 423.4,351.3 423.7,354.2 422.0,353.5 421.2,351.0"/><polygon fill="#0028ff" points="412.2,372.9 414.8,371.4 417.6,370.4 420.5,370.0 419.8,372.2 418.4,374.3 417.6,376.5 415.5,375.8 413.3,374.7"/><polygon fill="#0028ff" points="435.6,362.1 437.0,362.5 436.3,364.3 434.9,363.9"/><polygon fill="#0028ff" points="435.6,348.4 437.8,348.1 440.6,349.9 442.8,352.0 444.6,354.9 445.0,358.5 443.5,361.4 442.8,358.5 441.4,355.6 439.2,353.5 437.0,351.3 436.0,349.9"/><polygon fill="#0028ff" points="432.0,375.8 433.5,372.2 436.3,369.3 440.6,367.1 445.0,365.7 448.6,365.0 451.8,364.3 451.8,391.7 442.8,391.7 441.4,387.3 440.6,383.0 440.3,378.6 439.6,375.8 439.2,379.4 438.8,384.4 438.5,388.7 430.6,389.1 430.2,385.8 430.9,381.5 431.7,377.9"/><polygon fill="#0000aa" points="443.5,370.0 445.7,370.0 445.7,374.3 443.5,374.3"/><polygon fill="#0000aa" points="447.8,370.0 450.0,370.0 450.0,375.0 447.8,375.0"/><polygon fill="#0000aa" points="438.5,372.9 440.6,372.9 440.3,377.2 438.5,377.2"/><polygon fill="#0000aa" points="432.0,383.0 436.3,381.5 437.8,385.8 436.3,388.3 432.0,388.7"/><polygon fill="#0000aa" points="442.8,381.5 451.8,380.8 451.8,390.1 443.5,390.1"/><polygon fill="#7b00aa" points="430.6,385.8 434.9,385.8 434.9,388.7 430.6,388.7"/><polygon fill="#7b00aa" points="443.5,385.1 447.8,385.1 447.8,386.9 443.5,386.9"/><polygon fill="#0028ff" points="450.0,360.7 451.8,360.3 451.8,362.1 450.0,362.1"/><polygon fill="#00ff55" points="439.9,381.5 441.4,375.8 441.7,381.5 441.4,387.3 439.9,390.1 439.6,385.8"/><polygon fill="#00ff55" stroke="#00ff55" stroke-width="2.2" stroke-linejoin="round" points="385.3,346.3 410.4,346.3 409.7,349.2 406.9,350.6 404.0,349.9 401.1,351.3 400.4,354.9 398.9,358.5 396.1,361.4 392.5,363.5 388.9,364.3 385.3,363.5"/><polygon fill="#f0ff00" points="385.3,346.3 410.4,346.3 409.7,349.2 406.9,350.6 404.0,349.9 401.1,351.3 400.4,354.9 398.9,358.5 396.1,361.4 392.5,363.5 388.9,364.3 385.3,363.5"/><polygon fill="#ffc800" points="385.3,346.3 403.3,346.3 400.4,349.9 399.7,354.2 397.5,357.8 393.9,360.3 389.6,361.4 385.3,360.7"/><polygon fill="#ff9c00" points="385.3,346.3 399.7,346.3 398.2,351.3 396.8,354.9 393.2,357.1 389.6,356.3 385.3,355.6"/><polygon fill="#ff6a00" points="388.9,346.3 396.8,346.3 396.8,350.6 395.3,353.5 393.2,354.2 391.0,352.0 389.6,349.2"/><polygon fill="#f0ff00" points="409.7,365.0 412.6,362.8 416.2,361.4 420.5,360.3 424.8,359.9 429.1,358.5 432.0,357.8 433.5,359.9 432.7,362.1 429.9,363.5 426.3,365.0 422.0,366.1 418.4,367.5 415.5,368.9 412.6,370.0 410.4,371.1 409.4,368.6"/><polygon fill="#ffc800" points="414.8,365.7 416.9,364.3 420.5,363.5 424.1,362.8 426.3,363.2 424.1,364.6 420.5,365.7 416.9,366.8"/><polygon fill="#f0ff00" points="426.3,368.2 428.4,367.9 429.1,369.3 427.7,370.0 426.4,369.4"/><polygon fill="#00ff55" stroke="#00ff55" stroke-width="2.2" stroke-linejoin="round" points="424.1,346.3 437.8,346.3 439.2,349.9 440.6,353.5 442.8,356.3 443.5,359.2 442.1,362.1 439.9,364.3 438.5,362.8 439.2,359.9 437.8,357.8 435.6,356.3 432.7,355.6 429.9,354.2 427.7,352.8 425.9,350.6 424.8,348.4"/><polygon fill="#f0ff00" points="424.1,346.3 437.8,346.3 439.2,349.9 440.6,353.5 442.8,356.3 443.5,359.2 442.1,362.1 439.9,364.3 438.5,362.8 439.2,359.9 437.8,357.8 435.6,356.3 432.7,355.6 429.9,354.2 427.7,352.8 425.9,350.6 424.8,348.4"/><polygon fill="#ffc800" points="424.8,346.3 432.7,346.3 434.2,349.9 435.6,353.5 436.3,355.6 433.5,354.5 430.6,353.1 428.4,351.3 426.3,349.2"/><polygon fill="#ff9c00" points="425.5,346.3 432.0,346.3 432.7,349.2 434.2,352.8 434.9,354.9 432.0,353.8 429.1,352.0 427.0,349.9"/><polygon fill="#ff6a00" points="427.0,351.9 428.4,351.9 428.4,352.9 427.0,352.9"/><polygon fill="#0028ff" points="436.3,349.2 437.8,348.8 440.6,350.6 442.8,352.8 444.4,355.3 444.6,358.5 443.5,360.7 442.8,357.8 441.4,355.3 439.2,353.5 437.2,351.7"/><polygon fill="#00ff55" stroke="#00ff55" stroke-width="2.2" stroke-linejoin="round" points="443.5,346.3 447.8,346.3 448.6,351.3 448.9,355.6 447.8,359.2 446.4,361.4 445.3,358.5 445.7,354.9 445.0,351.3 443.9,348.4"/><polygon fill="#f0ff00" points="443.5,346.3 447.8,346.3 448.6,351.3 448.9,355.6 447.8,359.2 446.4,361.4 445.3,358.5 445.7,354.9 445.0,351.3 443.9,348.4"/><polygon fill="#ffc800" points="444.6,346.3 447.1,346.3 447.5,351.3 447.1,354.9 446.4,352.8 445.7,349.9"/><polygon fill="#ff9c00" points="450.0,346.3 451.8,346.3 451.8,350.6 450.4,350.2"/><polygon fill="#00ff55" stroke="#00ff55" stroke-width="2.2" stroke-linejoin="round" points="426.3,385.8 428.4,375.8 429.1,375.8 429.1,385.8 428.8,391.7 425.9,391.7"/><polygon fill="#f0ff00" points="426.3,385.8 428.4,375.8 429.1,375.8 429.1,385.8 428.8,391.7 425.9,391.7"/><polygon fill="#f0ff00" points="416.2,390.0 424.1,390.0 424.1,391.7 416.2,391.7"/><polygon fill="#f0ff00" points="429.1,390.0 432.0,390.0 432.0,391.7 429.1,391.7"/></g>
<g clip-path="url(#c15)"><rect x="451" y="347" width="65" height="46" fill="#00f0ff"/><polygon fill="#00ff55" points="450.3,354.2 454.6,354.9 455.3,361.4 453.2,362.1 450.3,361.4"/><polygon fill="#0028ff" points="450.3,364.3 453.2,362.8 455.3,361.4 456.4,364.3 456.0,367.1 453.9,368.6 451.7,369.3 450.3,370.0"/><polygon fill="#0028ff" points="450.3,377.9 452.4,378.6 453.9,381.5 453.2,384.4 450.3,385.1"/><polygon fill="#00ff55" points="453.2,374.3 455.0,373.6 455.0,377.9 455.3,383.0 453.9,385.8 452.8,383.0 453.5,378.6"/><polygon fill="#0028ff" points="466.1,351.3 469.0,350.6 471.9,352.4 474.7,351.0 478.3,349.2 479.8,351.3 478.3,354.2 475.4,355.6 473.3,357.8 472.6,361.4 474.0,364.3 475.4,367.9 475.8,371.4 474.7,375.0 473.3,377.2 471.1,375.8 469.7,374.3 469.0,377.2 468.3,380.1 469.0,383.7 468.3,386.5 466.5,384.4 465.4,380.8 464.3,377.9 464.7,374.3 466.1,371.4 467.9,368.6 468.3,365.0 467.9,361.4 466.5,357.8 465.7,354.2"/><polygon fill="#0000aa" points="468.3,359.9 469.7,359.2 470.8,362.1 471.9,365.0 473.3,367.9 474.0,371.4 472.9,375.0 471.5,373.6 470.1,371.4 469.0,367.9 468.3,364.3"/><polygon fill="#7b00aa" points="471.1,370.0 472.9,369.9 472.9,370.9 471.1,371.0"/><polygon fill="#0000aa" points="465.4,378.6 467.2,377.9 468.3,380.8 467.9,383.7 466.5,382.2"/><polygon fill="#0028ff" points="461.8,348.4 463.6,348.1 463.9,350.6 462.5,351.0"/><polygon fill="#00ff55" points="479.8,346.3 491.3,346.3 492.0,349.9 491.3,353.5 489.8,356.3 487.0,358.5 484.8,360.7 483.7,363.5 484.1,366.4 486.2,367.9 487.0,369.3 484.8,369.3 482.6,367.9 481.2,365.0 480.8,361.4 481.2,357.8 480.5,354.2 479.8,350.6"/><polygon fill="#f0ff00" points="481.9,346.3 490.5,346.3 490.9,350.6 489.8,354.2 487.7,356.3 485.5,357.8 483.4,359.9 482.6,357.1 483.0,353.5 482.3,349.9"/><polygon fill="#ffc800" points="487.0,346.3 490.2,346.3 490.4,350.6 489.5,353.5 488.0,352.0 487.3,349.2"/><polygon fill="#ff9c00" points="488.0,347.7 489.8,347.7 489.8,352.0 488.4,351.3"/><polygon fill="#ffc800" points="480.8,346.3 482.6,346.3 483.0,351.3 481.9,350.6"/><polygon fill="#00ff55" points="488.4,361.4 489.8,359.2 492.7,357.8 495.6,357.1 498.5,357.8 501.3,359.2 502.8,361.4 502.0,364.3 500.6,367.1 499.2,370.0 498.5,372.9 498.1,377.2 497.4,380.8 496.7,379.4 497.0,375.8 497.0,371.4 494.9,369.3 492.0,367.1 489.8,365.0"/><polygon fill="#f0ff00" points="491.3,361.4 493.4,359.6 496.3,358.9 499.2,359.9 501.3,361.4 501.0,363.9 499.5,366.4 498.1,369.3 496.3,368.6 494.1,366.4 492.0,364.3"/><polygon fill="#ffc800" points="493.1,363.2 494.9,363.2 494.9,365.0 493.4,365.0"/><polygon fill="#0028ff" points="485.5,364.3 487.7,363.2 489.1,365.7 491.3,367.9 494.1,370.0 496.3,372.9 497.0,376.5 496.3,380.8 497.0,383.7 498.5,382.2 499.2,379.4 499.9,375.8 500.6,372.2 502.0,370.7 503.5,374.3 504.2,378.6 504.9,377.2 507.1,372.9 509.2,374.3 510.7,376.5 512.1,374.3 513.6,371.4 516.8,372.2 516.8,388.7 513.6,389.1 510.0,389.4 507.1,391.7 474.7,391.7 473.3,388.7 474.7,385.8 477.6,383.0 479.8,380.1 481.2,375.8 481.9,371.4 483.0,368.6 484.8,369.3 487.0,369.3 486.2,367.9 485.2,366.4"/><polygon fill="#00ff55" points="497.0,371.4 498.5,372.9 498.1,377.2 497.4,380.8 496.7,379.4 497.0,375.8"/><polygon fill="#0000aa" points="488.4,370.7 490.5,369.3 493.4,371.4 495.6,374.3 495.9,378.6 494.9,382.2 492.7,384.4 489.8,387.3 487.0,389.4 482.6,390.1 478.3,389.4 475.4,389.1 476.2,386.5 479.0,384.4 481.9,381.5 484.8,377.9 487.0,374.3"/><polygon fill="#7b00aa" points="492.0,375.8 494.1,373.6 494.5,375.8 493.1,379.4 491.3,382.2 489.8,385.8 488.4,388.7 485.5,389.4 481.9,389.1 479.8,388.0 481.9,385.8 484.8,384.4 487.0,382.2 489.1,380.1 490.5,377.9"/><polygon fill="#0000aa" points="506.4,374.3 508.5,375.8 510.7,377.9 512.8,375.8 514.3,373.6 516.8,373.6 516.8,388.0 512.8,388.7 508.5,389.1 502.8,389.4 503.5,385.8 504.9,382.2 506.0,377.9"/><polygon fill="#7b00aa" points="502.8,385.1 504.6,382.2 506.4,380.8 506.7,384.4 505.6,388.0 503.8,389.4 502.4,388.7"/><polygon fill="#7b00aa" points="508.2,385.1 510.0,384.7 509.6,387.3 508.2,387.6"/><polygon fill="#7b00aa" points="514.3,385.8 516.8,384.4 516.8,388.7 514.6,388.3"/><polygon fill="#0028ff" points="493.4,346.3 497.7,346.3 499.9,349.9 502.0,353.5 504.2,356.3 505.6,359.2 504.9,361.4 502.8,359.2 500.6,356.3 497.7,354.2 494.9,351.3 493.8,348.4"/><polygon fill="#0028ff" points="505.6,346.3 510.7,346.3 511.4,351.3 512.1,356.3 513.2,361.4 513.6,367.1 514.3,371.4 512.1,374.3 510.7,376.5 509.2,374.3 508.5,370.0 508.9,365.0 508.5,359.9 507.4,354.9 506.4,350.6"/><polygon fill="#00ff55" points="501.3,346.3 504.2,346.3 504.9,349.9 506.0,354.2 506.4,357.8 504.9,356.3 503.5,352.8 502.0,349.2"/><polygon fill="#f0ff00" points="502.4,346.3 503.5,346.3 504.2,349.9 504.9,353.5 504.2,352.8 502.9,349.2"/><polygon fill="#00ff55" points="513.6,346.3 516.8,346.3 516.8,368.6 515.4,367.1 514.6,361.4 514.1,355.6 513.7,350.6"/><polygon fill="#f0ff00" points="514.6,346.3 516.8,346.3 516.8,366.4 515.7,361.4 515.0,354.2"/><polygon fill="#ffc800" points="515.4,346.3 516.8,346.3 516.8,352.8 515.7,351.3"/><polygon fill="#00ff55" stroke="#00ff55" stroke-width="2.2" stroke-linejoin="round" points="456.4,346.3 464.7,346.3 465.4,351.3 466.1,356.3 466.5,361.4 465.4,365.7 463.9,368.6 462.9,371.4 461.8,375.8 461.1,380.1 460.3,384.4 459.6,387.3 458.2,385.8 458.5,381.5 458.9,377.2 458.5,372.9 457.8,368.6 457.1,364.3 456.8,358.5 456.6,352.8"/><polygon fill="#f0ff00" points="456.4,346.3 464.7,346.3 465.4,351.3 466.1,356.3 466.5,361.4 465.4,365.7 463.9,368.6 462.9,371.4 461.8,375.8 461.1,380.1 460.3,384.4 459.6,387.3 458.2,385.8 458.5,381.5 458.9,377.2 458.5,372.9 457.8,368.6 457.1,364.3 456.8,358.5 456.6,352.8"/><polygon fill="#ffc800" points="457.1,346.3 463.6,346.3 464.3,352.8 465.0,358.5 464.7,363.5 463.2,367.1 461.8,370.0 460.7,368.6 459.6,365.7 458.2,362.8 457.5,357.8 457.3,352.0"/><polygon fill="#ff9c00" points="457.5,346.3 461.8,346.3 462.5,351.3 463.6,356.3 463.9,361.4 462.9,365.0 461.4,367.1 460.0,365.0 458.5,361.4 457.8,356.3 457.6,351.3"/><polygon fill="#ff6a00" points="457.8,348.4 460.3,347.7 460.7,352.8 460.3,357.1 458.9,357.8 458.0,354.2"/><polygon fill="#00ff55" stroke="#00ff55" stroke-width="2.2" stroke-linejoin="round" points="450.3,346.3 453.9,346.3 453.5,351.3 452.8,355.6 451.7,356.3 450.3,355.6"/><polygon fill="#f0ff00" points="450.3,346.3 453.9,346.3 453.5,351.3 452.8,355.6 451.7,356.3 450.3,355.6"/><polygon fill="#ffc800" points="450.3,346.3 452.4,346.3 452.4,350.6 450.3,352.0"/><polygon fill="#7b00aa" points="457.5,370.0 458.2,369.3 458.5,372.9 458.2,377.2 457.5,375.8"/><polygon fill="#00ff55" stroke="#00ff55" stroke-width="2.2" stroke-linejoin="round" points="455.0,373.6 456.0,372.9 456.8,377.2 457.1,381.5 456.8,385.8 456.0,388.7 455.0,387.3 455.3,383.0 455.0,377.9"/><polygon fill="#f0ff00" points="455.0,373.6 456.0,372.9 456.8,377.2 457.1,381.5 456.8,385.8 456.0,388.7 455.0,387.3 455.3,383.0 455.0,377.9"/><polygon fill="#00ff55" stroke="#00ff55" stroke-width="2.2" stroke-linejoin="round" points="461.1,385.8 463.2,384.4 463.9,387.3 463.2,390.1 461.1,391.7 460.3,388.7"/><polygon fill="#f0ff00" points="461.1,385.8 463.2,384.4 463.9,387.3 463.2,390.1 461.1,391.7 460.3,388.7"/><polygon fill="#f0ff00" points="466.1,390.0 471.9,390.0 471.9,391.7 466.1,391.7"/><polygon fill="#f0ff00" points="496.3,390.0 499.2,390.0 499.2,391.7 496.3,391.7"/><polygon fill="#f0ff00" points="512.1,390.0 516.8,390.0 516.8,391.7 512.1,391.7"/><polygon fill="#7b00aa" points="458.9,389.4 461.8,389.4 461.8,391.7 458.9,391.7"/></g>
<g clip-path="url(#c16)"><rect x="516" y="347" width="65" height="46" fill="#0028ff"/><polygon fill="#00f0ff" points="523.2,346.3 532.2,346.3 532.0,351.3 532.5,354.2 528.2,352.4 525.0,349.5"/><polygon fill="#00f0ff" points="523.9,367.9 526.8,364.3 530.4,363.5 534.0,359.9 537.6,358.5 541.9,358.9 546.2,362.1 546.9,365.0 544.8,367.1 541.2,369.3 537.6,371.4 534.0,373.6 531.1,376.5 529.3,380.1 527.5,379.4 526.1,375.8 524.6,371.4"/><polygon fill="#00ff55" points="526.1,368.6 528.2,366.4 530.4,368.6 533.6,367.1 534.7,362.8 536.9,361.4 539.7,360.7 543.3,361.4 545.5,363.5 544.0,365.7 541.2,367.9 537.6,370.0 534.0,372.2 530.4,375.0 528.9,377.9 527.5,375.8 526.8,372.2"/><polygon fill="#f0ff00" points="536.9,366.4 539.0,364.3 540.8,363.9 540.4,365.3 538.6,367.1 537.2,367.9"/><polygon fill="#f0ff00" points="541.9,365.0 543.0,364.6 543.0,365.7 542.0,365.8"/><polygon fill="#0000aa" points="518.9,370.7 521.0,367.9 523.9,366.4 524.6,368.6 523.2,371.4 524.6,375.8 526.8,379.4 528.9,380.8 531.1,377.9 534.0,375.0 537.6,372.2 541.2,370.0 544.8,367.9 547.6,367.1 548.0,370.7 546.2,372.9 543.3,374.3 540.4,375.8 537.6,377.9 539.0,380.8 541.9,383.7 543.3,387.3 542.6,389.4 515.3,389.4 515.3,375.8 517.4,373.6"/><polygon fill="#0000aa" points="536.9,355.3 539.0,354.9 539.4,356.7 537.2,357.1"/><polygon fill="#0000aa" points="540.4,356.3 544.8,356.0 546.2,357.8 544.8,359.2 541.9,358.5"/><polygon fill="#7b00aa" points="518.2,381.5 519.2,375.8 520.3,370.7 521.0,370.0 521.8,373.6 522.5,370.7 523.2,370.0 523.5,374.3 524.6,377.9 526.8,381.5 528.9,383.0 531.1,380.1 533.3,381.5 535.4,383.7 538.3,385.8 541.2,387.3 543.0,389.1 518.2,389.4"/><polygon fill="#7b00aa" points="536.1,380.8 537.9,380.8 537.9,381.9 536.1,381.9"/><polygon fill="#00f0ff" points="547.6,371.4 549.8,367.1 551.2,362.8 552.7,357.1 553.7,352.0 555.2,346.3 566.3,346.3 565.6,351.3 564.2,355.6 563.5,361.4 566.3,363.5 569.2,365.7 567.8,367.9 565.6,369.3 564.2,372.2 562.7,377.2 562.0,381.5 560.6,385.8 559.9,389.4 546.9,389.4 548.4,385.8 547.6,381.5 545.5,377.9 546.2,374.3"/><polygon fill="#00ff55" points="549.8,377.2 551.2,372.9 552.0,367.1 553.0,361.4 553.7,356.3 554.5,352.8 556.3,346.3 562.0,346.3 562.4,351.3 562.0,355.6 559.9,359.9 559.1,363.5 562.0,365.0 564.2,367.9 563.5,370.0 562.0,368.6 559.1,368.6 557.0,370.7 557.0,375.8 558.4,378.6 557.7,381.5 556.3,384.4 555.2,389.4 552.0,389.4 551.2,385.8 549.8,383.0 549.1,380.1"/><polygon fill="#f0ff00" points="552.3,367.1 553.0,361.4 553.7,356.3 554.5,352.0 555.5,352.8 555.9,357.8 556.3,363.5 556.6,368.6 556.3,374.3 557.0,378.6 555.9,380.8 555.2,384.4 554.8,389.4 553.7,389.4 553.4,384.4 552.3,380.1 552.7,375.8 552.0,371.4"/><polygon fill="#ffc800" points="553.0,363.5 553.7,357.8 554.5,353.5 555.2,355.6 555.5,361.4 555.9,367.9 555.5,374.3 555.2,379.4 554.5,377.9 553.7,372.9 553.4,368.6"/><polygon fill="#ff9c00" points="553.5,362.8 554.3,356.3 554.8,357.8 555.2,363.5 555.4,370.0 554.8,375.8 554.1,371.4 553.7,367.1"/><polygon fill="#ff0f0f" points="554.1,365.7 554.8,365.7 554.8,369.3 554.1,369.3"/><polygon fill="#f0ff00" points="557.7,346.3 560.9,346.3 561.3,351.3 561.7,355.6 559.9,359.2 559.1,362.1 557.7,362.5 558.1,358.5 559.1,354.9 558.4,351.3"/><polygon fill="#0028ff" points="555.9,353.5 557.3,353.1 557.7,355.6 556.6,356.3"/><polygon fill="#00f0ff" points="557.0,370.0 559.1,368.9 561.7,370.0 562.0,374.3 560.6,378.6 558.4,377.9 557.3,374.3"/><polygon fill="#0028ff" points="562.4,348.4 564.2,348.8 565.6,352.8 566.0,357.8 564.9,362.8 563.1,361.4 562.7,357.1 563.1,352.8"/><polygon fill="#0000aa" points="564.9,370.7 567.8,368.6 570.6,367.9 573.5,369.3 576.4,371.4 578.6,370.0 581.8,369.3 581.8,389.4 563.5,389.4 563.8,384.4 564.2,378.6 564.5,374.3"/><polygon fill="#0028ff" points="566.3,371.4 569.2,369.3 572.1,370.0 572.8,374.3 570.6,377.9 567.8,379.4 566.3,375.8"/><polygon fill="#7b00aa" points="563.8,387.3 566.3,384.4 569.2,381.5 572.1,378.6 573.5,377.9 574.2,381.5 575.7,384.4 576.4,388.0 575.7,389.4 563.8,389.4"/><polygon fill="#00f0ff" stroke="#00f0ff" stroke-width="4.4" stroke-linejoin="round" points="577.1,379.4 578.6,378.6 578.9,383.0 578.6,387.3 578.2,389.4 576.8,389.4 577.1,384.4"/><polygon fill="#00ff55" points="577.1,379.4 578.6,378.6 578.9,383.0 578.6,387.3 578.2,389.4 576.8,389.4 577.1,384.4"/><polygon fill="#f0ff00" points="577.5,385.1 578.2,384.7 578.2,389.4 577.1,389.4"/><polygon fill="#00f0ff" stroke="#00f0ff" stroke-width="4.4" stroke-linejoin="round" points="579.6,361.4 581.8,360.7 581.8,367.1 580.0,366.4"/><polygon fill="#00ff55" points="579.6,361.4 581.8,360.7 581.8,367.1 580.0,366.4"/><polygon fill="#00f0ff" stroke="#00f0ff" stroke-width="4.4" stroke-linejoin="round" points="515.3,346.3 522.5,346.3 524.6,349.9 528.2,352.8 531.8,354.2 533.3,357.1 533.8,361.4 533.3,366.4 531.5,368.6 529.7,367.9 529.3,364.3 526.8,363.5 523.9,365.0 520.3,366.4 517.4,367.1 515.3,367.9"/><polygon fill="#00ff55" stroke="#00ff55" stroke-width="2.2" stroke-linejoin="round" points="515.3,346.3 522.5,346.3 524.6,349.9 528.2,352.8 531.8,354.2 533.3,357.1 533.8,361.4 533.3,366.4 531.5,368.6 529.7,367.9 529.3,364.3 526.8,363.5 523.9,365.0 520.3,366.4 517.4,367.1 515.3,367.9"/><polygon fill="#f0ff00" points="515.3,346.3 522.5,346.3 524.6,349.9 528.2,352.8 531.8,354.2 533.3,357.1 533.8,361.4 533.3,366.4 531.5,368.6 529.7,367.9 529.3,364.3 526.8,363.5 523.9,365.0 520.3,366.4 517.4,367.1 515.3,367.9"/><polygon fill="#ffc800" points="515.3,346.3 521.8,346.3 523.9,349.9 527.5,353.1 530.4,354.2 532.2,356.3 532.5,359.2 530.4,359.9 527.5,360.7 524.6,362.5 521.0,363.9 517.4,365.0 515.3,365.0"/><polygon fill="#ff9c00" points="515.3,346.3 521.0,346.3 523.2,349.9 526.1,353.5 527.5,356.3 526.8,358.5 523.2,359.2 519.6,357.8 516.7,354.9 515.3,354.2"/><polygon fill="#00ff55" stroke="#00ff55" stroke-width="2.2" stroke-linejoin="round" points="526.8,346.3 529.7,346.3 529.3,349.9 527.5,349.9"/><polygon fill="#f0ff00" points="526.8,346.3 529.7,346.3 529.3,349.9 527.5,349.9"/><polygon fill="#00f0ff" stroke="#00f0ff" stroke-width="4.4" stroke-linejoin="round" points="566.3,346.3 581.8,346.3 579.3,351.3 577.8,356.3 576.4,361.4 574.6,365.7 572.8,367.1 570.6,365.0 568.5,361.4 567.4,357.1 566.7,352.0"/><polygon fill="#00ff55" stroke="#00ff55" stroke-width="2.2" stroke-linejoin="round" points="566.3,346.3 581.8,346.3 579.3,351.3 577.8,356.3 576.4,361.4 574.6,365.7 572.8,367.1 570.6,365.0 568.5,361.4 567.4,357.1 566.7,352.0"/><polygon fill="#f0ff00" points="566.3,346.3 581.8,346.3 579.3,351.3 577.8,356.3 576.4,361.4 574.6,365.7 572.8,367.1 570.6,365.0 568.5,361.4 567.4,357.1 566.7,352.0"/><polygon fill="#ffc800" points="567.0,346.3 580.7,346.3 578.6,351.3 576.8,356.3 575.0,361.4 573.5,364.3 571.7,362.8 569.6,359.2 568.1,354.9 567.4,350.6"/><polygon fill="#ff9c00" points="567.2,346.3 580.0,346.3 577.8,351.0 576.0,355.3 573.9,359.2 572.1,359.2 569.9,356.3 568.5,352.8 567.6,349.9"/><polygon fill="#ff6a00" points="567.4,346.3 579.3,346.3 577.1,350.6 575.0,354.2 572.8,356.3 570.6,354.9 568.8,352.0 567.8,349.2"/><polygon fill="#00f0ff" points="516.7,389.4 523.9,389.4 523.9,391.7 516.7,391.7"/><polygon fill="#00f0ff" points="541.9,389.4 547.6,389.4 547.6,391.7 541.9,391.7"/><polygon fill="#f0ff00" points="549.1,390.0 560.6,390.0 560.6,391.7 549.1,391.7"/><polygon fill="#00f0ff" points="562.7,389.4 569.9,389.4 569.9,391.7 562.7,391.7"/></g>
<g clip-path="url(#c17)"><rect x="581" y="347" width="68" height="46" fill="#00f0ff"/><polygon fill="#0028ff" points="590.3,348.4 593.9,348.1 595.7,349.9 594.7,352.8 593.2,355.6 591.8,358.5 589.6,360.7 587.5,362.1 586.0,361.4 586.8,358.5 588.2,354.9 588.9,351.3"/><polygon fill="#0000aa" points="588.9,355.6 590.7,354.9 590.3,357.1 588.9,357.8"/><polygon fill="#00ff55" points="597.5,352.8 600.4,349.9 604.0,347.0 609.8,346.3 608.3,349.2 604.7,351.3 601.1,354.2 598.6,354.9"/><polygon fill="#f0ff00" points="598.6,352.4 601.5,349.9 604.7,347.4 606.9,347.7 604.0,350.2 601.1,352.8 599.0,353.8"/><polygon fill="#0028ff" points="596.5,357.8 599.0,356.3 601.9,354.2 605.4,352.0 609.0,349.2 610.5,348.4 609.8,351.3 606.9,354.2 605.4,357.8 606.2,361.4 608.3,364.3 611.2,367.1 614.1,370.0 616.2,373.6 616.6,377.2 615.5,380.8 613.4,383.7 611.9,386.5 609.8,388.7 599.0,388.7 598.3,385.8 599.7,382.2 600.4,377.9 599.3,373.6 598.6,368.6 598.3,363.5 596.8,360.7"/><polygon fill="#0000aa" points="599.0,357.1 601.9,356.7 603.3,358.5 602.6,360.7 599.7,360.3"/><polygon fill="#0000aa" points="607.2,370.0 609.0,369.3 609.8,372.9 609.0,377.2 607.6,380.8 605.4,383.7 605.1,382.2 606.5,379.4 607.6,375.8"/><polygon fill="#00ff55" points="586.0,364.3 588.2,362.1 591.1,361.4 593.9,362.5 596.8,364.3 598.3,367.1 597.9,370.7 597.5,375.8 598.3,380.1 597.5,385.1 595.4,387.3 593.9,384.4 594.3,378.6 593.9,374.3 591.8,371.4 588.9,369.3 586.8,367.1"/><polygon fill="#f0ff00" points="587.1,364.6 588.9,362.8 591.8,362.5 594.7,363.9 597.2,366.4 597.4,369.3 596.1,370.7 595.4,374.3 595.7,378.6 595.0,380.8 594.3,377.2 593.9,372.9 591.8,370.0 589.3,368.2 587.5,366.4"/><polygon fill="#ffc800" points="589.6,364.3 592.5,364.3 595.4,366.4 596.5,368.6 594.7,368.6 592.5,367.5 590.3,366.1"/><polygon fill="#00ff55" stroke="#00ff55" stroke-width="2.2" stroke-linejoin="round" points="590.3,385.8 591.8,385.1 592.1,391.7 590.3,391.7"/><polygon fill="#f0ff00" points="590.3,385.8 591.8,385.1 592.1,391.7 590.3,391.7"/><polygon fill="#00ff55" points="605.4,357.8 606.9,354.9 609.8,352.0 613.4,349.2 617.0,347.0 621.3,346.3 619.8,349.2 617.0,351.3 613.4,353.5 611.2,356.3 612.6,359.2 615.5,362.1 618.4,365.7 621.3,369.3 622.7,372.9 622.3,377.2 621.3,380.8 619.1,383.0 617.0,382.2 617.7,378.6 617.7,375.0 615.5,370.7 612.6,367.9 609.8,365.0 606.9,362.1"/><polygon fill="#f0ff00" points="606.2,357.8 608.0,354.9 611.2,352.0 614.8,349.2 618.4,347.0 619.8,347.0 617.0,349.9 613.4,352.4 610.5,354.9 609.8,357.8 611.9,360.7 614.8,363.5 617.7,367.1 618.4,368.6 616.2,367.9 613.4,365.7 610.5,363.5 607.6,360.7"/><polygon fill="#ffc800" points="607.2,357.1 608.7,356.0 609.0,358.5 610.5,361.4 608.7,360.3"/><polygon fill="#0028ff" points="610.8,356.7 612.6,356.0 615.5,358.5 618.4,361.4 620.5,364.3 619.8,365.0 617.0,363.5 614.1,361.4 611.9,359.2"/><polygon fill="#00ff55" points="616.2,356.3 618.4,352.8 620.5,349.9 624.1,347.0 627.0,346.3 625.6,349.9 623.4,353.5 622.0,357.1 621.3,360.7 619.8,361.4 617.7,359.2"/><polygon fill="#f0ff00" points="617.7,356.3 619.8,352.8 622.0,349.9 624.9,347.0 625.9,347.0 624.1,350.6 622.3,354.2 621.3,357.8 620.2,359.9 618.7,358.5"/><polygon fill="#0028ff" points="622.7,353.5 624.9,351.3 627.0,349.9 627.7,352.8 627.0,356.3 626.3,359.9 627.0,363.5 628.5,366.4 631.3,369.3 634.2,372.2 635.6,375.8 636.4,379.4 635.6,383.0 634.2,385.8 631.3,388.0 627.7,389.4 615.5,389.4 616.2,386.5 619.1,384.4 622.0,381.5 623.8,377.9 624.5,373.6 624.1,369.3 623.4,365.0 622.7,360.7 622.3,357.1"/><polygon fill="#0000aa" points="631.3,373.6 633.5,372.9 634.9,375.8 634.2,377.9 632.0,376.5"/><polygon fill="#7b00aa" points="623.4,387.3 625.6,385.1 627.7,383.0 629.9,379.4 631.3,377.2 632.8,375.8 634.2,377.2 633.8,380.8 632.8,383.7 630.6,386.5 627.7,388.7 624.1,389.1"/><polygon fill="#00ff55" points="627.0,356.3 628.5,352.8 630.6,351.3 632.8,353.5 633.8,357.1 634.9,361.4 637.1,365.7 637.8,368.6 635.6,367.9 632.8,365.7 629.9,363.5 628.1,360.7"/><polygon fill="#f0ff00" points="628.8,356.3 629.9,353.5 631.3,353.1 632.4,356.3 633.1,360.7 632.8,364.3 631.3,362.8 629.9,360.7"/><polygon fill="#00ff55" points="630.6,346.3 634.9,346.3 634.2,349.9 632.0,351.3 629.9,350.6"/><polygon fill="#0028ff" points="632.0,354.2 633.5,353.8 635.6,357.1 637.8,360.7 640.0,364.3 642.1,367.9 644.3,370.7 649.3,372.2 649.3,389.4 635.6,389.4 637.1,385.8 638.5,382.2 639.6,377.9 639.2,374.3 637.8,370.7 635.6,367.9 634.2,364.3 633.1,360.7 632.4,357.1"/><polygon fill="#00f0ff" points="636.4,369.3 637.8,368.6 639.2,372.2 640.3,376.5 640.0,380.1 638.5,378.6 638.2,375.0 637.1,372.2"/><polygon fill="#7b00aa" points="640.7,370.0 642.1,368.6 643.6,371.4 645.0,374.3 649.3,375.8 649.3,389.4 642.1,389.4 640.7,387.3 640.0,383.0 640.7,378.6 641.0,374.3"/><polygon fill="#0028ff" points="644.3,377.2 649.3,376.5 649.3,381.5 645.0,383.0 644.3,380.1"/><polygon fill="#00ff55" stroke="#00ff55" stroke-width="2.2" stroke-linejoin="round" points="634.2,346.3 649.3,346.3 649.3,370.7 645.0,368.6 642.8,365.7 640.7,362.1 638.5,358.5 636.4,354.9 634.9,351.3"/><polygon fill="#f0ff00" points="634.2,346.3 649.3,346.3 649.3,370.7 645.0,368.6 642.8,365.7 640.7,362.1 638.5,358.5 636.4,354.9 634.9,351.3"/><polygon fill="#ffc800" points="635.6,346.3 649.3,346.3 649.3,365.0 644.3,363.5 642.1,360.7 640.0,357.1 637.8,353.5 636.4,349.9"/><polygon fill="#ff9c00" points="636.4,350.6 638.5,349.9 642.1,349.9 643.6,352.8 643.6,357.1 642.1,359.9 640.0,357.8 637.8,354.9"/><polygon fill="#0028ff" points="580.3,369.3 583.2,368.6 586.0,369.3 588.9,371.4 591.1,374.3 591.8,377.9 590.3,380.8 588.9,384.4 587.5,388.0 580.3,388.7"/><polygon fill="#0000aa" points="580.3,370.7 583.2,370.7 586.0,372.2 588.2,375.0 588.9,378.6 587.8,382.2 586.8,385.8 586.0,388.3 580.3,388.7"/><polygon fill="#7b00aa" points="582.4,374.3 584.6,373.6 586.8,375.8 587.5,379.4 586.4,383.0 585.3,386.5 584.2,388.7 580.3,388.7 580.3,384.4 581.7,379.4"/><polygon fill="#00ff55" stroke="#00ff55" stroke-width="2.2" stroke-linejoin="round" points="581.7,346.3 590.3,346.3 588.9,349.9 587.5,354.2 586.0,358.5 584.6,362.1 582.4,364.3 580.3,365.0 580.3,351.3"/><polygon fill="#f0ff00" points="581.7,346.3 590.3,346.3 588.9,349.9 587.5,354.2 586.0,358.5 584.6,362.1 582.4,364.3 580.3,365.0 580.3,351.3"/><polygon fill="#ffc800" points="583.2,346.3 588.2,346.3 587.1,349.9 586.0,353.5 584.6,357.1 583.2,356.3 582.8,352.0"/><polygon fill="#ff9c00" points="583.5,352.0 585.0,351.3 585.3,354.2 584.2,356.3 583.2,354.9"/><polygon fill="#f0ff00" points="594.3,390.0 608.3,390.0 608.3,391.7 594.3,391.7"/><polygon fill="#00ff55" points="625.6,390.0 628.5,390.0 628.5,391.7 625.6,391.7"/></g>
<g clip-path="url(#c18)"><rect x="350" y="335" width="65" height="47" fill="#0028ff"/><polygon fill="#00f0ff" points="349.3,344.3 352.2,345.8 355.8,349.4 359.3,353.0 361.5,356.6 360.8,359.4 357.9,362.3 355.8,365.2 355.0,368.1 357.2,369.5 359.3,372.4 360.1,376.7 360.8,379.6 362.2,378.1 362.6,373.8 363.7,370.2 366.5,367.4 370.1,365.2 373.7,362.3 376.6,359.4 378.4,357.3 378.8,359.4 380.2,362.3 382.4,360.2 383.8,359.4 384.5,363.0 383.8,365.9 386.0,368.1 388.8,370.2 391.7,373.1 393.9,376.0 396.0,378.9 397.5,376.0 398.2,371.0 399.6,366.6 401.0,363.8 403.2,363.0 404.6,365.2 406.1,365.9 407.5,364.5 409.0,366.6 411.8,371.7 415.8,375.3 415.8,334.3 349.3,334.3"/><polygon fill="#00ff55" points="399.6,334.3 415.8,334.3 415.8,356.6 413.3,355.9 411.8,352.3 410.4,348.7 407.5,345.1 404.6,341.5 401.8,337.9"/><polygon fill="#00ff55" stroke="#00ff55" stroke-width="2.2" stroke-linejoin="round" points="349.3,334.3 386.0,334.3 387.4,337.2 390.3,339.3 393.1,338.6 396.0,336.4 397.5,334.3 399.6,334.3 401.8,337.9 404.6,341.5 407.5,345.1 410.4,348.7 411.8,350.8 409.7,351.9 407.5,353.0 405.4,352.3 403.2,353.7 401.8,356.6 400.3,360.2 397.5,362.3 394.6,363.8 391.7,363.8 389.5,364.5 388.8,362.3 387.4,359.4 385.2,357.3 382.4,355.9 380.2,353.7 378.0,355.1 375.9,358.0 373.0,360.9 370.1,363.0 366.5,365.2 363.7,367.4 361.5,368.8 357.9,368.8 356.5,366.6 357.9,363.8 360.1,360.9 361.9,358.0 361.5,355.1 359.3,351.5 356.5,347.9 352.9,344.3 349.3,342.2"/><polygon fill="#f0ff00" points="349.3,334.3 386.0,334.3 387.4,337.2 390.3,339.3 393.1,338.6 396.0,336.4 397.5,334.3 399.6,334.3 401.8,337.9 404.6,341.5 407.5,345.1 410.4,348.7 411.8,350.8 409.7,351.9 407.5,353.0 405.4,352.3 403.2,353.7 401.8,356.6 400.3,360.2 397.5,362.3 394.6,363.8 391.7,363.8 389.5,364.5 388.8,362.3 387.4,359.4 385.2,357.3 382.4,355.9 380.2,353.7 378.0,355.1 375.9,358.0 373.0,360.9 370.1,363.0 366.5,365.2 363.7,367.4 361.5,368.8 357.9,368.8 356.5,366.6 357.9,363.8 360.1,360.9 361.9,358.0 361.5,355.1 359.3,351.5 356.5,347.9 352.9,344.3 349.3,342.2"/><polygon fill="#00ff55" points="386.0,334.3 387.4,337.2 390.3,339.3 393.1,338.6 396.0,336.4 397.5,334.3"/><polygon fill="#f0ff00" points="404.6,334.3 409.7,334.3 413.3,338.6 415.8,342.2 415.8,347.2 412.6,343.6 409.0,339.3 406.8,336.4"/><polygon fill="#00f0ff" points="411.1,334.3 415.8,334.3 415.8,339.3 413.3,336.4"/><polygon fill="#00ff55" stroke="#00ff55" stroke-width="2.2" stroke-linejoin="round" points="409.7,365.2 411.8,363.0 415.8,361.6 415.8,370.2 412.6,371.0 410.4,368.8"/><polygon fill="#f0ff00" points="409.7,365.2 411.8,363.0 415.8,361.6 415.8,370.2 412.6,371.0 410.4,368.8"/><polygon fill="#ffc800" points="351.4,337.9 354.3,336.4 358.6,337.2 364.4,336.4 370.1,334.3 386.0,334.3 387.4,337.9 390.3,340.8 394.6,339.3 398.9,338.6 401.8,341.5 404.6,344.3 407.5,347.9 409.0,350.8 406.8,351.5 403.9,350.8 401.8,353.7 400.3,358.0 397.5,360.9 393.9,362.3 391.0,361.6 389.5,358.7 387.4,355.9 384.5,353.0 382.4,350.8 378.8,349.4 377.3,351.5 375.2,355.1 372.3,358.7 368.7,361.6 364.4,364.5 361.5,365.9 359.3,365.2 360.8,362.3 362.9,358.7 362.6,354.4 360.1,350.1 357.2,346.5 354.3,342.9 352.2,340.0"/><polygon fill="#ff9c00" points="370.1,337.2 373.7,335.7 378.8,336.1 383.1,337.2 386.7,340.0 389.5,342.9 392.4,345.1 396.0,347.2 398.2,350.1 398.9,353.0 396.7,355.1 393.9,354.4 391.0,351.5 388.1,348.7 385.2,346.5 381.6,344.3 378.8,342.9 375.2,341.5 371.6,339.3"/><polygon fill="#ff9c00" points="363.7,350.8 366.5,348.7 369.4,348.3 371.6,350.1 371.6,353.7 369.4,356.6 366.5,358.7 364.4,359.4 363.7,356.6 363.3,353.7"/><polygon fill="#ff9c00" points="398.2,342.2 400.3,341.8 403.2,344.3 406.1,347.2 407.5,349.4 405.4,349.4 402.5,347.2 399.6,344.7"/><polygon fill="#ff6a00" points="388.1,347.2 391.0,346.5 393.9,347.6 396.7,349.4 397.8,352.3 396.0,354.4 393.1,353.0 390.3,350.1"/><polygon fill="#0000aa" points="349.3,356.6 354.3,357.3 359.3,358.7 357.2,361.6 354.3,363.8 351.4,363.0 349.3,362.3"/><polygon fill="#7b00aa" points="349.3,360.9 352.9,361.2 354.3,362.3 352.2,365.2 349.3,364.5"/><polygon fill="#0000aa" points="364.4,368.8 368.0,365.9 371.6,363.8 374.4,361.6 377.3,359.4 378.8,362.3 379.5,365.9 381.6,368.1 383.8,371.0 386.0,373.8 388.8,376.7 390.3,379.6 391.7,382.7 362.2,382.7 362.9,378.1 363.7,373.1"/><polygon fill="#7b00aa" points="375.2,371.0 377.3,368.8 379.5,369.5 380.9,373.1 383.8,375.3 386.0,378.1 387.4,382.7 374.4,382.7 374.8,378.1 375.5,374.5"/><polygon fill="#0000aa" points="399.6,367.4 401.8,363.8 403.2,363.8 404.6,366.6 406.8,365.9 407.5,368.8 409.0,372.4 411.1,376.7 413.3,381.0 414.0,382.7 398.9,382.7 398.5,375.3"/><polygon fill="#7b00aa" points="401.8,379.6 404.6,378.9 406.1,381.0 405.4,382.7 401.8,382.7"/></g>
<g clip-path="url(#c19)"><rect x="415" y="335" width="65" height="47" fill="#00f0ff"/><polygon fill="#00ff55" points="414.3,334.3 417.9,334.3 420.0,337.9 422.2,341.5 419.3,340.8 416.4,339.3 414.3,338.6"/><polygon fill="#00ff55" points="420.0,368.8 423.6,368.1 427.2,368.8 429.4,371.0 429.0,375.3 428.3,379.6 425.8,381.0 423.6,378.1 422.2,375.3 420.8,372.4"/><polygon fill="#00ff55" points="451.0,369.5 453.8,367.4 456.0,365.9 456.7,369.5 456.3,373.8 455.6,378.1 454.9,382.7 453.1,382.7 452.4,378.1 452.0,373.8"/><polygon fill="#00ff55" points="445.9,358.7 448.8,356.6 452.4,357.3 455.3,358.7 456.0,361.6 452.4,363.0 448.8,363.8 445.9,363.0 444.5,360.9"/><polygon fill="#0028ff" points="420.8,347.9 422.2,347.6 423.6,350.8 424.0,354.4 422.2,354.8 421.1,351.5"/><polygon fill="#0028ff" points="414.3,355.9 416.4,354.4 418.6,354.1 417.9,356.2 415.7,357.3 414.3,357.6"/><polygon fill="#0028ff" points="415.0,345.8 416.1,345.8 416.1,346.9 415.0,346.9"/><polygon fill="#0028ff" points="416.1,347.9 417.2,347.9 417.2,349.0 416.1,349.0"/><polygon fill="#0028ff" points="435.1,348.7 438.0,347.9 440.9,349.4 443.4,352.3 444.8,355.9 445.2,359.4 444.1,361.6 442.3,359.4 440.2,356.6 437.6,353.7 435.9,351.5"/><polygon fill="#0028ff" points="431.9,373.8 433.7,371.0 436.6,368.8 440.2,367.4 443.8,365.9 446.6,364.8 448.8,363.8 452.4,363.0 455.3,361.6 456.7,360.2 457.1,363.8 456.0,366.6 453.8,368.8 452.4,371.7 451.7,375.3 452.4,378.1 453.8,381.0 454.2,382.7 432.3,382.7 431.9,378.1"/><polygon fill="#0000aa" points="438.0,373.8 439.8,373.1 440.2,376.7 439.1,379.6 438.0,378.1"/><polygon fill="#0000aa" points="443.8,369.5 444.8,369.5 444.8,372.4 443.8,372.4"/><polygon fill="#0000aa" points="448.8,370.2 450.2,370.2 450.2,373.8 448.8,373.8"/><polygon fill="#00f0ff" points="440.2,375.3 441.6,374.5 442.0,378.1 441.2,382.7 439.8,382.7 440.0,378.9"/><polygon fill="#0028ff" points="414.3,370.2 417.9,370.2 420.0,371.0 419.3,373.8 417.9,376.0 415.7,376.7 414.3,376.3"/><polygon fill="#0000aa" points="416.4,372.4 418.2,372.4 418.2,374.5 416.4,374.5"/><polygon fill="#0028ff" points="434.4,362.3 436.6,361.6 436.9,363.4 435.1,364.5"/><polygon fill="#0028ff" points="465.3,351.5 468.2,350.1 471.1,352.3 474.0,350.8 476.8,349.4 479.7,348.7 480.8,349.0 480.8,353.0 478.3,353.7 476.1,355.9 474.0,358.7 473.2,362.3 474.0,365.9 476.1,369.5 476.8,372.4 474.7,375.3 472.5,378.1 470.4,381.0 468.2,382.7 463.9,382.7 464.6,378.1 466.0,373.8 466.8,369.5 466.4,365.2 465.7,360.9 465.3,356.6"/><polygon fill="#0000aa" points="468.2,360.2 470.0,359.4 471.8,362.3 473.2,365.9 474.7,369.5 474.0,372.4 471.8,371.0 469.6,367.4 468.6,363.8"/><polygon fill="#be00aa" points="471.1,369.9 472.9,369.9 472.9,370.7 471.1,370.7"/><polygon fill="#0028ff" points="461.7,343.6 463.9,342.2 465.3,342.9 466.8,345.8 466.4,347.9 464.6,348.3 463.9,350.1 462.5,350.5 462.1,347.9 462.5,345.8"/><polygon fill="#0028ff" points="463.9,336.8 465.0,336.8 465.0,338.2 463.9,338.2"/><polygon fill="#0028ff" points="459.9,342.9 461.0,342.9 461.0,345.8 459.9,345.8"/><polygon fill="#0028ff" points="478.3,361.6 480.8,360.2 480.8,369.5 479.0,368.1 477.9,365.2"/><polygon fill="#0028ff" points="477.6,381.0 480.8,379.6 480.8,382.7 476.8,382.7"/><polygon fill="#00ff55" stroke="#00ff55" stroke-width="2.2" stroke-linejoin="round" points="417.2,334.3 425.8,334.3 428.7,339.3 431.5,344.3 434.4,349.4 437.3,353.7 440.2,357.3 442.3,360.2 441.6,363.0 439.4,363.8 437.3,361.6 434.4,358.7 430.8,357.3 427.2,355.9 425.1,352.3 423.6,347.2 421.5,342.2 419.3,337.9"/><polygon fill="#f0ff00" points="417.2,334.3 425.8,334.3 428.7,339.3 431.5,344.3 434.4,349.4 437.3,353.7 440.2,357.3 442.3,360.2 441.6,363.0 439.4,363.8 437.3,361.6 434.4,358.7 430.8,357.3 427.2,355.9 425.1,352.3 423.6,347.2 421.5,342.2 419.3,337.9"/><polygon fill="#ffc800" points="418.6,334.3 425.1,334.3 427.9,340.0 430.8,345.1 433.7,350.1 436.6,354.4 438.7,357.3 440.2,360.2 439.4,362.3 437.6,360.2 435.1,357.6 431.5,356.2 427.9,354.8 425.8,351.5 424.3,346.5 422.2,341.5 420.0,337.2"/><polygon fill="#ff9c00" points="420.0,335.0 423.6,335.0 426.5,340.0 429.4,345.1 431.9,349.4 434.4,353.7 435.5,356.6 433.0,356.2 429.4,354.4 426.9,351.5 425.4,346.5 423.3,341.5 421.1,337.9"/><polygon fill="#ff6a00" points="426.9,345.8 427.9,345.8 427.9,346.9 426.9,346.9"/><polygon fill="#ff6a00" points="427.2,351.9 428.7,351.9 428.7,353.0 427.2,353.0"/><polygon fill="#00ff55" stroke="#00ff55" stroke-width="2.2" stroke-linejoin="round" points="433.7,334.3 440.9,334.3 443.8,338.6 446.6,343.6 448.1,348.7 448.8,353.7 448.1,358.0 445.9,360.9 444.5,360.2 445.9,356.6 446.3,352.3 445.2,347.2 443.0,342.9 440.2,339.3 436.6,336.4"/><polygon fill="#f0ff00" points="433.7,334.3 440.9,334.3 443.8,338.6 446.6,343.6 448.1,348.7 448.8,353.7 448.1,358.0 445.9,360.9 444.5,360.2 445.9,356.6 446.3,352.3 445.2,347.2 443.0,342.9 440.2,339.3 436.6,336.4"/><polygon fill="#ffc800" points="435.9,334.3 439.4,334.3 442.7,339.3 445.6,344.3 447.0,349.4 447.4,354.4 446.6,358.0 445.9,355.1 445.6,350.1 444.1,345.8 441.6,341.5 438.7,337.9"/><polygon fill="#00ff55" stroke="#00ff55" stroke-width="2.2" stroke-linejoin="round" points="443.0,334.3 448.8,334.3 451.7,339.3 453.8,344.3 454.9,349.4 454.5,353.7 453.1,356.6 452.0,353.7 452.4,349.4 451.3,345.1 449.2,340.8 446.6,337.9 444.5,336.4"/><polygon fill="#f0ff00" points="443.0,334.3 448.8,334.3 451.7,339.3 453.8,344.3 454.9,349.4 454.5,353.7 453.1,356.6 452.0,353.7 452.4,349.4 451.3,345.1 449.2,340.8 446.6,337.9 444.5,336.4"/><polygon fill="#ffc800" points="445.2,335.0 448.1,335.0 450.6,339.3 452.7,344.3 453.5,349.4 452.7,353.0 452.0,348.7 450.6,344.3 448.4,340.0"/><polygon fill="#00ff55" stroke="#00ff55" stroke-width="2.2" stroke-linejoin="round" points="414.3,339.3 417.2,340.0 419.3,342.2 420.8,345.8 420.4,349.4 418.6,350.1 416.4,347.9 414.3,347.2"/><polygon fill="#f0ff00" points="414.3,339.3 417.2,340.0 419.3,342.2 420.8,345.8 420.4,349.4 418.6,350.1 416.4,347.9 414.3,347.2"/><polygon fill="#ffc800" points="414.3,341.5 416.4,341.8 417.9,343.6 417.2,345.8 414.3,345.1"/><polygon fill="#00ff55" stroke="#00ff55" stroke-width="2.2" stroke-linejoin="round" points="414.3,360.9 419.3,360.2 424.3,359.1 429.4,358.0 432.3,358.7 432.6,361.6 429.4,363.8 425.1,365.2 420.8,366.6 416.4,367.4 414.3,367.4"/><polygon fill="#f0ff00" points="414.3,360.9 419.3,360.2 424.3,359.1 429.4,358.0 432.3,358.7 432.6,361.6 429.4,363.8 425.1,365.2 420.8,366.6 416.4,367.4 414.3,367.4"/><polygon fill="#ffc800" points="414.3,363.0 419.3,362.3 424.3,360.9 429.4,359.8 427.9,362.3 423.6,363.8 419.3,364.8 414.3,365.6"/><polygon fill="#f0ff00" points="426.5,368.1 428.7,367.7 429.0,369.5 426.9,369.9"/><polygon fill="#00ff55" points="453.8,334.3 459.6,334.3 461.0,339.3 462.5,344.3 463.9,349.4 465.3,354.4 466.0,359.4 466.4,363.8 465.3,367.4 463.9,371.0 462.5,375.3 461.7,379.6 461.4,382.7 455.3,382.7 456.0,378.1 456.7,373.8 457.1,369.5 456.7,365.2 456.3,360.9 456.0,356.6 455.6,351.5 455.3,346.5 454.9,341.5 454.2,337.2"/><polygon fill="#f0ff00" points="454.9,334.3 458.9,334.3 460.3,339.3 461.7,345.1 463.2,350.1 464.6,355.1 465.3,360.2 465.3,363.8 464.3,367.4 462.8,371.0 461.7,375.3 461.0,379.6 460.7,382.7 458.9,382.7 459.2,378.1 459.6,373.8 458.9,369.5 458.1,365.2 457.4,360.2 457.1,355.1 456.7,349.4 456.3,343.6 455.6,338.6"/><polygon fill="#ffc800" points="455.6,335.0 458.5,335.0 459.9,340.0 461.4,345.8 462.8,350.8 464.3,355.9 464.8,360.9 464.6,363.8 463.2,366.6 461.7,369.5 460.7,372.4 459.9,369.5 459.2,365.2 458.1,360.2 457.8,355.1 457.4,349.4 456.8,343.6 456.1,338.6"/><polygon fill="#ff9c00" points="457.1,339.3 458.5,339.3 459.9,345.8 461.4,351.5 463.2,356.6 464.3,361.6 463.9,364.5 462.1,366.6 460.7,368.1 459.6,365.2 458.9,360.2 458.1,355.1 457.8,349.4 457.4,344.3"/><polygon fill="#ff6a00" points="457.8,347.9 459.2,347.2 460.3,351.5 461.0,355.9 459.9,357.3 458.9,354.4 458.1,350.8"/><polygon fill="#7b00aa" points="457.4,368.8 458.5,368.8 458.9,373.8 458.5,378.1 457.8,377.4 457.4,373.1"/><polygon fill="#ffc800" points="459.9,372.4 461.4,371.0 461.4,375.3 461.0,379.6 460.3,382.7 459.4,382.7 459.7,377.4"/><polygon fill="#00ff55" points="472.5,334.3 475.4,334.3 476.8,337.2 476.1,339.3 474.0,337.9 472.9,336.1"/><polygon fill="#00ff55" stroke="#00ff55" stroke-width="2.2" stroke-linejoin="round" points="478.3,334.3 480.8,334.3 480.8,341.5 479.4,340.8 478.6,337.9"/><polygon fill="#f0ff00" points="478.3,334.3 480.8,334.3 480.8,341.5 479.4,340.8 478.6,337.9"/><polygon fill="#00ff55" points="476.8,356.6 478.6,356.6 478.6,358.4 476.8,358.4"/></g></g>
<g fill="#000" shape-rendering="crispEdges"><rect x="271" y="132" width="1" height="4"/><rect x="271" y="387" width="1" height="4"/><rect x="287" y="132" width="1" height="4"/><rect x="287" y="387" width="1" height="4"/><rect x="302" y="132" width="1" height="4"/><rect x="302" y="387" width="1" height="4"/><rect x="317" y="132" width="1" height="4"/><rect x="317" y="387" width="1" height="4"/><rect x="332" y="132" width="2" height="9"/><rect x="332" y="382" width="2" height="9"/><rect x="348" y="132" width="1" height="4"/><rect x="348" y="387" width="1" height="4"/><rect x="363" y="132" width="1" height="4"/><rect x="363" y="387" width="1" height="4"/><rect x="378" y="132" width="1" height="4"/><rect x="378" y="387" width="1" height="4"/><rect x="394" y="132" width="1" height="4"/><rect x="394" y="387" width="1" height="4"/><rect x="408" y="132" width="2" height="9"/><rect x="408" y="382" width="2" height="9"/><rect x="424" y="132" width="1" height="4"/><rect x="424" y="387" width="1" height="4"/><rect x="440" y="132" width="1" height="4"/><rect x="440" y="387" width="1" height="4"/><rect x="455" y="132" width="1" height="4"/><rect x="455" y="387" width="1" height="4"/><rect x="470" y="132" width="1" height="4"/><rect x="470" y="387" width="1" height="4"/><rect x="485" y="132" width="2" height="9"/><rect x="485" y="382" width="2" height="9"/><rect x="501" y="132" width="1" height="4"/><rect x="501" y="387" width="1" height="4"/><rect x="516" y="132" width="1" height="4"/><rect x="516" y="387" width="1" height="4"/><rect x="532" y="132" width="1" height="4"/><rect x="532" y="387" width="1" height="4"/><rect x="547" y="132" width="1" height="4"/><rect x="547" y="387" width="1" height="4"/><rect x="561" y="132" width="2" height="9"/><rect x="561" y="382" width="2" height="9"/><rect x="578" y="132" width="1" height="4"/><rect x="578" y="387" width="1" height="4"/><rect x="593" y="132" width="1" height="4"/><rect x="593" y="387" width="1" height="4"/><rect x="608" y="132" width="1" height="4"/><rect x="608" y="387" width="1" height="4"/><rect x="623" y="132" width="1" height="4"/><rect x="623" y="387" width="1" height="4"/><rect x="638" y="132" width="2" height="9"/><rect x="638" y="382" width="2" height="9"/><rect x="257" y="376" width="4" height="1"/><rect x="643" y="376" width="4" height="1"/><rect x="257" y="358" width="4" height="1"/><rect x="643" y="358" width="4" height="1"/><rect x="257" y="340" width="4" height="1"/><rect x="643" y="340" width="4" height="1"/><rect x="257" y="323" width="4" height="1"/><rect x="643" y="323" width="4" height="1"/><rect x="257" y="304" width="9" height="2"/><rect x="638" y="304" width="9" height="2"/><rect x="257" y="288" width="4" height="1"/><rect x="643" y="288" width="4" height="1"/><rect x="257" y="270" width="4" height="1"/><rect x="643" y="270" width="4" height="1"/><rect x="257" y="252" width="4" height="1"/><rect x="643" y="252" width="4" height="1"/><rect x="257" y="235" width="4" height="1"/><rect x="643" y="235" width="4" height="1"/><rect x="257" y="216" width="9" height="2"/><rect x="638" y="216" width="9" height="2"/><rect x="257" y="200" width="4" height="1"/><rect x="643" y="200" width="4" height="1"/><rect x="257" y="182" width="4" height="1"/><rect x="643" y="182" width="4" height="1"/><rect x="257" y="164" width="4" height="1"/><rect x="643" y="164" width="4" height="1"/><rect x="257" y="147" width="4" height="1"/><rect x="643" y="147" width="4" height="1"/></g>
<rect x="256" y="131" width="392" height="261" fill="none" stroke="#000" stroke-width="2" shape-rendering="crispEdges"/>
<g shape-rendering="crispEdges"><rect x="664" y="197" width="13" height="14" fill="#ff7b7b"/><rect x="664" y="211" width="13" height="15" fill="#ff0f0f"/><rect x="664" y="226" width="13" height="7.800000000000011" fill="#ff6a00"/><rect x="664" y="233.8" width="13" height="7.199999999999989" fill="#ff9c00"/><rect x="664" y="241" width="13" height="8" fill="#ffc800"/><rect x="664" y="249" width="13" height="7.699999999999989" fill="#f0ff00"/><rect x="664" y="256.7" width="13" height="7.300000000000011" fill="#00ff55"/><rect x="664" y="264" width="13" height="7.699999999999989" fill="#00f0ff"/><rect x="664" y="271.7" width="13" height="7.300000000000011" fill="#0028ff"/><rect x="664" y="279" width="13" height="7.699999999999989" fill="#0000aa"/><rect x="664" y="286.7" width="13" height="30.30000000000001" fill="#7b00aa"/><rect x="664" y="317" width="13" height="30" fill="#be00aa"/><rect x="664" y="347" width="13" height="45" fill="#e600aa"/><rect x="663" y="196" width="15" height="2" fill="#000"/><rect x="663" y="210" width="15" height="2" fill="#000"/><rect x="663" y="225" width="15" height="2" fill="#000"/><rect x="663" y="233" width="15" height="2" fill="#000"/><rect x="663" y="240" width="15" height="2" fill="#000"/><rect x="663" y="248" width="15" height="2" fill="#000"/><rect x="663" y="256" width="15" height="2" fill="#000"/><rect x="663" y="263" width="15" height="2" fill="#000"/><rect x="663" y="271" width="15" height="2" fill="#000"/><rect x="663" y="278" width="15" height="2" fill="#000"/><rect x="663" y="286" width="15" height="2" fill="#000"/><rect x="663" y="316" width="15" height="2" fill="#000"/><rect x="663" y="346" width="15" height="2" fill="#000"/><rect x="663" y="196" width="2" height="197" fill="#000"/><rect x="676" y="196" width="2" height="197" fill="#000"/><rect x="663" y="391" width="15" height="2" fill="#000"/></g>
<polygon points="664.5,196 671.3,171 677.5,196" fill="#ffb4b4"/><polyline points="664.2,196.5 671.3,170.6 677.8,196.5" fill="none" stroke="#000" stroke-width="1.9" stroke-linejoin="miter" stroke-miterlimit="10"/>
<text y="85" font-size="28.8" class="lt" stroke="#000" stroke-width="0.45"><tspan x="301.25" textLength="62.45" lengthAdjust="spacingAndGlyphs">H2O</tspan><tspan x="362.12" textLength="26.55" lengthAdjust="spacingAndGlyphs">-</tspan><tspan x="387.28" textLength="18.14" lengthAdjust="spacingAndGlyphs">g</tspan><tspan x="404.00" textLength="16.00" lengthAdjust="spacingAndGlyphs"> </tspan><tspan x="419.47" textLength="91.76" lengthAdjust="spacingAndGlyphs">Mixing</tspan><tspan x="510.00" textLength="16.00" lengthAdjust="spacingAndGlyphs"> </tspan><tspan x="526.30" textLength="75.99" lengthAdjust="spacingAndGlyphs">Ratio</tspan></text>
<text y="108.3" font-size="15.8"><tspan x="163.02" textLength="57.10" lengthAdjust="spacingAndGlyphs">(x1E4</tspan><tspan x="220.00" textLength="6.00" lengthAdjust="spacingAndGlyphs"> </tspan><tspan x="225.67" textLength="27.74" lengthAdjust="spacingAndGlyphs">m)</tspan></text>
<text y="437.5" font-size="15.8"><tspan x="565.59" textLength="58.15" lengthAdjust="spacingAndGlyphs">(x1E5</tspan><tspan x="623.00" textLength="6.00" lengthAdjust="spacingAndGlyphs"> </tspan><tspan x="628.65" textLength="28.09" lengthAdjust="spacingAndGlyphs">m)</tspan></text>
<text y="468.3" font-size="22.4" class="lt" stroke="#000" stroke-width="0.45"><tspan x="371.90" textLength="15.99" lengthAdjust="spacingAndGlyphs">X</tspan><tspan x="385.25" textLength="24.92" lengthAdjust="spacingAndGlyphs">-</tspan><tspan x="407.05" textLength="125.68" lengthAdjust="spacingAndGlyphs">coordinate</tspan></text>
<g transform="translate(217,340) rotate(-90)"><text y="0" font-size="22.4" class="lt" stroke="#000" stroke-width="0.45"><tspan x="-0.25" textLength="14.51" lengthAdjust="spacingAndGlyphs">Z</tspan><tspan x="11.95" textLength="24.92" lengthAdjust="spacingAndGlyphs">-</tspan><tspan x="33.75" textLength="125.68" lengthAdjust="spacingAndGlyphs">coordinate</tspan></text></g>
<text y="142.5" font-size="15.1" class="lt" stroke="#000" stroke-width="0.45"><tspan x="655.15" textLength="74.69" lengthAdjust="spacingAndGlyphs">t=46800</tspan><tspan x="729.00" textLength="8.00" lengthAdjust="spacingAndGlyphs"> </tspan><tspan x="737.38" textLength="9.17" lengthAdjust="spacingAndGlyphs">s</tspan></text>
<text y="414.5" font-size="17"><tspan x="327.98" textLength="8.78" lengthAdjust="spacingAndGlyphs">1</tspan></text>
<text y="414.5" font-size="17"><tspan x="401.96" textLength="14.80" lengthAdjust="spacingAndGlyphs">2</tspan></text>
<text y="414.5" font-size="17"><tspan x="478.86" textLength="13.92" lengthAdjust="spacingAndGlyphs">3</tspan></text>
<text y="414.5" font-size="17"><tspan x="556.29" textLength="12.85" lengthAdjust="spacingAndGlyphs">4</tspan></text>
<text y="414.5" font-size="17"><tspan x="632.68" textLength="12.86" lengthAdjust="spacingAndGlyphs">5</tspan></text>
<text y="223.8" font-size="17"><tspan x="233.26" textLength="11.34" lengthAdjust="spacingAndGlyphs">2</tspan></text>
<text y="311.8" font-size="17"><tspan x="235.36" textLength="8.34" lengthAdjust="spacingAndGlyphs">1</tspan></text>
<text y="201.8" font-size="17"><tspan x="686.15" textLength="46.39" lengthAdjust="spacingAndGlyphs">0.004</tspan></text>
<text y="239.8" font-size="17"><tspan x="686.22" textLength="35.59" lengthAdjust="spacingAndGlyphs">1.5e</tspan><tspan x="720.28" textLength="14.57" lengthAdjust="spacingAndGlyphs">-</tspan><tspan x="733.56" textLength="12.19" lengthAdjust="spacingAndGlyphs">3</tspan></text>
<text y="261.8" font-size="17"><tspan x="685.84" textLength="11.34" lengthAdjust="spacingAndGlyphs">0</tspan></text>
<text y="284.8" font-size="17"><tspan x="684.98" textLength="14.57" lengthAdjust="spacingAndGlyphs">-</tspan><tspan x="699.09" textLength="36.35" lengthAdjust="spacingAndGlyphs">1.5e</tspan><tspan x="733.47" textLength="15.39" lengthAdjust="spacingAndGlyphs">-</tspan><tspan x="747.58" textLength="12.06" lengthAdjust="spacingAndGlyphs">3</tspan></text>
<text y="352.8" font-size="17"><tspan x="684.92" textLength="14.98" lengthAdjust="spacingAndGlyphs">-</tspan><tspan x="698.93" textLength="47.31" lengthAdjust="spacingAndGlyphs">0.006</tspan></text>
</svg></body></html>
